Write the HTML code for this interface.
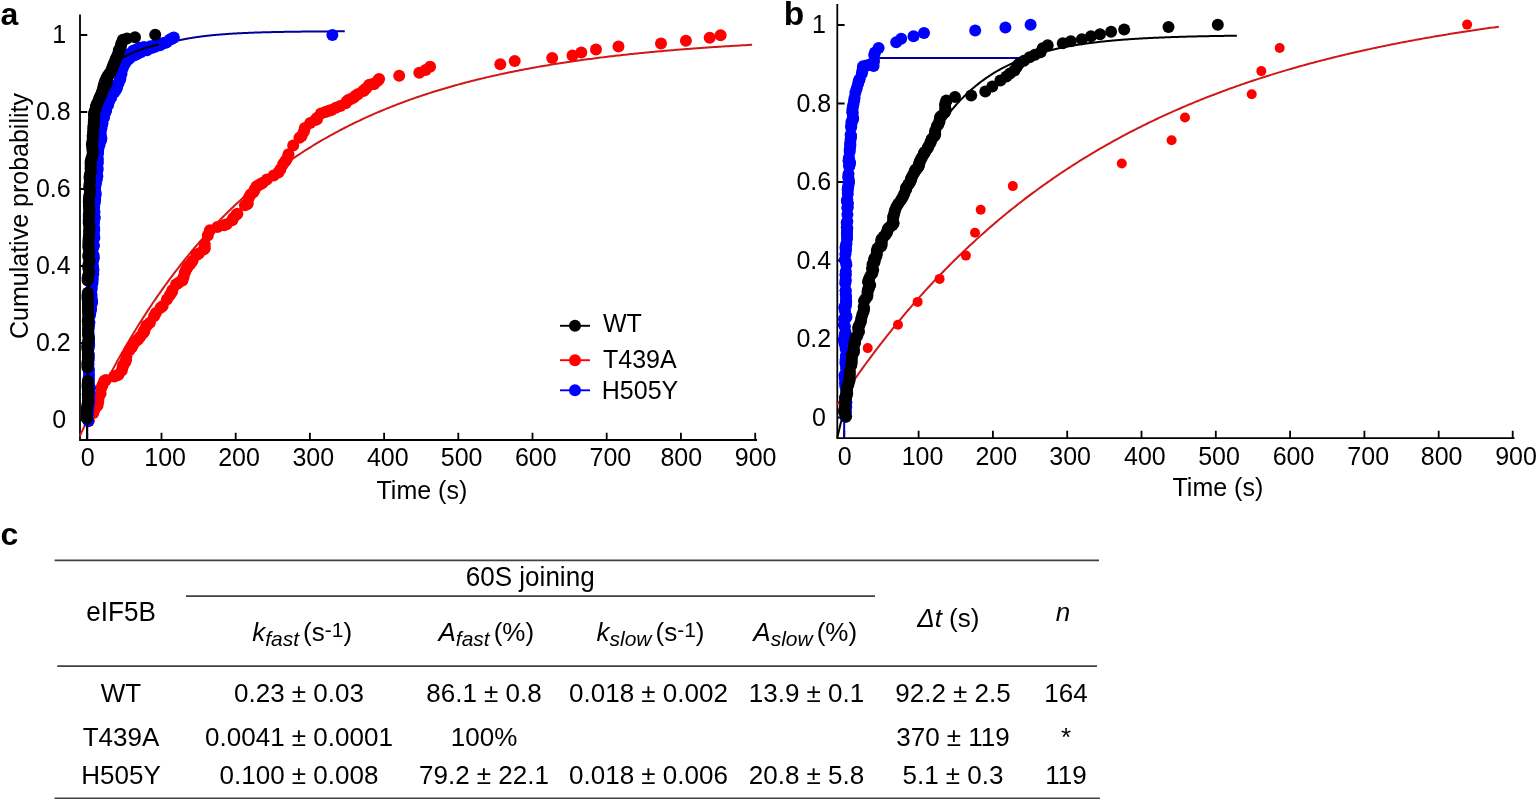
<!DOCTYPE html>
<html><head><meta charset="utf-8"><title>Figure</title>
<style>html,body{margin:0;padding:0;background:#fff;} body{width:1540px;height:800px;overflow:hidden;} svg{display:block;}</style>
</head><body>
<svg width="1540" height="800" viewBox="0 0 1540 800">
<rect width="1540" height="800" fill="#fff"/>
<path d="M80.0,15.5 L80.0,440.0 L756.1,440.0" fill="none" stroke="#000" stroke-width="1.8" stroke-linejoin="miter" stroke-linecap="square"/>
<path d="M87.30,440.0 L87.30,432.7 M161.50,440.0 L161.50,432.7 M235.70,440.0 L235.70,432.7 M309.90,440.0 L309.90,432.7 M384.10,440.0 L384.10,432.7 M458.30,440.0 L458.30,432.7 M532.50,440.0 L532.50,432.7 M606.70,440.0 L606.70,432.7 M680.90,440.0 L680.90,432.7 M755.20,440.0 L755.20,432.7 M80.0,420.00 L87.3,420.00 M80.0,343.00 L87.3,343.00 M80.0,266.00 L87.3,266.00 M80.0,189.00 L87.3,189.00 M80.0,112.00 L87.3,112.00 M80.0,35.00 L87.3,35.00 " stroke="#000" stroke-width="1.8" fill="none"/>
<path d="M79.88,436.11 L81.56,432.40 L83.25,428.71 L84.93,425.07 L86.62,421.45 L88.30,417.87 L89.99,414.32 L91.67,410.81 L93.36,407.32 L95.04,403.87 L96.73,400.46 L98.41,397.07 L100.10,393.71 L101.78,390.39 L103.47,387.10 L105.15,383.83 L106.84,380.60 L108.52,377.40 L110.21,374.23 L111.89,371.08 L113.58,367.97 L115.26,364.88 L116.95,361.83 L118.63,358.80 L120.32,355.80 L122.00,352.82 L123.69,349.88 L125.37,346.96 L127.06,344.07 L128.74,341.21 L130.43,338.37 L132.11,335.56 L133.79,332.77 L135.48,330.01 L137.16,327.28 L138.85,324.57 L140.53,321.89 L142.22,319.23 L143.90,316.60 L145.59,313.99 L147.27,311.40 L148.96,308.84 L150.64,306.30 L152.33,303.79 L154.01,301.30 L155.70,298.83 L157.38,296.38 L159.07,293.96 L160.75,291.56 L162.44,289.19 L164.12,286.83 L165.81,284.50 L167.49,282.18 L169.18,279.89 L170.86,277.62 L172.55,275.38 L174.23,273.15 L175.92,270.94 L177.60,268.76 L179.29,266.59 L180.97,264.44 L182.66,262.32 L184.34,260.21 L186.03,258.12 L187.71,256.06 L189.39,254.01 L191.08,251.98 L192.76,249.97 L194.45,247.98 L196.13,246.00 L197.82,244.05 L199.50,242.11 L201.19,240.19 L202.87,238.29 L204.56,236.41 L206.24,234.54 L207.93,232.69 L209.61,230.86 L211.30,229.04 L212.98,227.25 L214.67,225.46 L216.35,223.70 L218.04,221.95 L219.72,220.22 L221.41,218.50 L223.09,216.80 L224.78,215.12 L226.46,213.45 L228.15,211.79 L229.83,210.16 L231.52,208.53 L233.20,206.92 L234.89,205.33 L236.57,203.75 L238.26,202.19 L239.94,200.64 L241.62,199.10 L243.31,197.58 L244.99,196.08 L246.68,194.58 L248.36,193.11 L250.05,191.64 L251.73,190.19 L253.42,188.75 L255.10,187.33 L256.79,185.92 L258.47,184.52 L260.16,183.13 L261.84,181.76 L263.53,180.40 L265.21,179.05 L266.90,177.72 L268.58,176.39 L270.27,175.08 L271.95,173.79 L273.64,172.50 L275.32,171.23 L277.01,169.96 L278.69,168.71 L280.38,167.47 L282.06,166.25 L283.75,165.03 L285.43,163.82 L287.12,162.63 L288.80,161.45 L290.49,160.28 L292.17,159.12 L293.85,157.97 L295.54,156.83 L297.22,155.70 L298.91,154.58 L300.59,153.47 L302.28,152.37 L303.96,151.28 L305.65,150.21 L307.33,149.14 L309.02,148.08 L310.70,147.03 L312.39,146.00 L314.07,144.97 L315.76,143.95 L317.44,142.94 L319.13,141.94 L320.81,140.95 L322.50,139.97 L324.18,138.99 L325.87,138.03 L327.55,137.07 L329.24,136.13 L330.92,135.19 L332.61,134.26 L334.29,133.34 L335.98,132.43 L337.66,131.53 L339.35,130.63 L341.03,129.75 L342.72,128.87 L344.40,128.00 L346.09,127.14 L347.77,126.29 L349.45,125.44 L351.14,124.60 L352.82,123.77 L354.51,122.95 L356.19,122.13 L357.88,121.33 L359.56,120.53 L361.25,119.73 L362.93,118.95 L364.62,118.17 L366.30,117.40 L367.99,116.64 L369.67,115.88 L371.36,115.13 L373.04,114.39 L374.73,113.65 L376.41,112.92 L378.10,112.20 L379.78,111.49 L381.47,110.78 L383.15,110.07 L384.84,109.38 L386.52,108.69 L388.21,108.01 L389.89,107.33 L391.58,106.66 L393.26,106.00 L394.95,105.34 L396.63,104.69 L398.32,104.04 L400.00,103.40 L401.68,102.77 L403.37,102.14 L405.05,101.52 L406.74,100.90 L408.42,100.29 L410.11,99.68 L411.79,99.09 L413.48,98.49 L415.16,97.90 L416.85,97.32 L418.53,96.74 L420.22,96.17 L421.90,95.60 L423.59,95.04 L425.27,94.49 L426.96,93.93 L428.64,93.39 L430.33,92.85 L432.01,92.31 L433.70,91.78 L435.38,91.25 L437.07,90.73 L438.75,90.22 L440.44,89.70 L442.12,89.20 L443.81,88.70 L445.49,88.20 L447.18,87.71 L448.86,87.22 L450.55,86.73 L452.23,86.25 L453.91,85.78 L455.60,85.31 L457.28,84.84 L458.97,84.38 L460.65,83.92 L462.34,83.47 L464.02,83.02 L465.71,82.57 L467.39,82.13 L469.08,81.70 L470.76,81.26 L472.45,80.84 L474.13,80.41 L475.82,79.99 L477.50,79.57 L479.19,79.16 L480.87,78.75 L482.56,78.35 L484.24,77.94 L485.93,77.55 L487.61,77.15 L489.30,76.76 L490.98,76.37 L492.67,75.99 L494.35,75.61 L496.04,75.23 L497.72,74.86 L499.41,74.49 L501.09,74.13 L502.78,73.76 L504.46,73.40 L506.15,73.05 L507.83,72.70 L509.51,72.35 L511.20,72.00 L512.88,71.66 L514.57,71.32 L516.25,70.98 L517.94,70.65 L519.62,70.32 L521.31,69.99 L522.99,69.67 L524.68,69.35 L526.36,69.03 L528.05,68.71 L529.73,68.40 L531.42,68.09 L533.10,67.78 L534.79,67.48 L536.47,67.18 L538.16,66.88 L539.84,66.58 L541.53,66.29 L543.21,66.00 L544.90,65.71 L546.58,65.43 L548.27,65.15 L549.95,64.87 L551.64,64.59 L553.32,64.32 L555.01,64.05 L556.69,63.78 L558.38,63.51 L560.06,63.25 L561.74,62.98 L563.43,62.73 L565.11,62.47 L566.80,62.21 L568.48,61.96 L570.17,61.71 L571.85,61.46 L573.54,61.22 L575.22,60.98 L576.91,60.74 L578.59,60.50 L580.28,60.26 L581.96,60.03 L583.65,59.79 L585.33,59.56 L587.02,59.34 L588.70,59.11 L590.39,58.89 L592.07,58.67 L593.76,58.45 L595.44,58.23 L597.13,58.01 L598.81,57.80 L600.50,57.59 L602.18,57.38 L603.87,57.17 L605.55,56.97 L607.24,56.76 L608.92,56.56 L610.61,56.36 L612.29,56.17 L613.97,55.97 L615.66,55.77 L617.34,55.58 L619.03,55.39 L620.71,55.20 L622.40,55.02 L624.08,54.83 L625.77,54.65 L627.45,54.46 L629.14,54.28 L630.82,54.10 L632.51,53.93 L634.19,53.75 L635.88,53.58 L637.56,53.41 L639.25,53.24 L640.93,53.07 L642.62,52.90 L644.30,52.73 L645.99,52.57 L647.67,52.41 L649.36,52.25 L651.04,52.09 L652.73,51.93 L654.41,51.77 L656.10,51.61 L657.78,51.46 L659.47,51.31 L661.15,51.16 L662.84,51.01 L664.52,50.86 L666.21,50.71 L667.89,50.57 L669.57,50.42 L671.26,50.28 L672.94,50.14 L674.63,50.00 L676.31,49.86 L678.00,49.72 L679.68,49.58 L681.37,49.45 L683.05,49.32 L684.74,49.18 L686.42,49.05 L688.11,48.92 L689.79,48.79 L691.48,48.66 L693.16,48.54 L694.85,48.41 L696.53,48.29 L698.22,48.16 L699.90,48.04 L701.59,47.92 L703.27,47.80 L704.96,47.68 L706.64,47.57 L708.33,47.45 L710.01,47.33 L711.70,47.22 L713.38,47.11 L715.07,46.99 L716.75,46.88 L718.44,46.77 L720.12,46.66 L721.80,46.56 L723.49,46.45 L725.17,46.34 L726.86,46.24 L728.54,46.13 L730.23,46.03 L731.91,45.93 L733.60,45.83 L735.28,45.73 L736.97,45.63 L738.65,45.53 L740.34,45.43 L742.02,45.33 L743.71,45.24 L745.39,45.14 L747.08,45.05 L748.76,44.96 L750.45,44.86 L752.13,44.77" fill="none" stroke="#d01818" stroke-width="2.0" stroke-linejoin="round"/>
<g fill="#ff0000"><circle cx="88.8" cy="421.1" r="6.0"/><circle cx="93.4" cy="413.0" r="6.0"/><circle cx="94.8" cy="409.1" r="6.0"/><circle cx="95.5" cy="406.8" r="6.0"/><circle cx="96.3" cy="406.5" r="6.0"/><circle cx="97.6" cy="405.2" r="6.0"/><circle cx="98.3" cy="401.5" r="6.0"/><circle cx="97.8" cy="398.6" r="6.0"/><circle cx="98.8" cy="397.3" r="6.0"/><circle cx="100.6" cy="393.4" r="6.0"/><circle cx="101.3" cy="387.9" r="6.0"/><circle cx="102.6" cy="384.9" r="6.0"/><circle cx="104.2" cy="381.1" r="6.0"/><circle cx="105.9" cy="380.0" r="6.0"/><circle cx="114.1" cy="376.5" r="6.0"/><circle cx="116.5" cy="375.4" r="6.0"/><circle cx="118.5" cy="374.7" r="6.0"/><circle cx="121.8" cy="370.5" r="6.0"/><circle cx="122.7" cy="367.0" r="6.0"/><circle cx="123.0" cy="365.4" r="6.0"/><circle cx="125.1" cy="362.2" r="6.0"/><circle cx="126.1" cy="360.1" r="6.0"/><circle cx="126.4" cy="356.6" r="6.0"/><circle cx="129.3" cy="350.3" r="6.0"/><circle cx="131.6" cy="347.4" r="6.0"/><circle cx="133.0" cy="345.0" r="6.0"/><circle cx="135.7" cy="341.3" r="6.0"/><circle cx="138.0" cy="339.6" r="6.0"/><circle cx="140.2" cy="336.7" r="6.0"/><circle cx="143.1" cy="332.9" r="6.0"/><circle cx="143.6" cy="332.2" r="6.0"/><circle cx="144.2" cy="330.7" r="6.0"/><circle cx="144.5" cy="330.2" r="6.0"/><circle cx="146.4" cy="325.8" r="6.0"/><circle cx="146.8" cy="325.4" r="6.0"/><circle cx="149.9" cy="322.8" r="6.0"/><circle cx="154.0" cy="316.3" r="6.0"/><circle cx="155.9" cy="312.9" r="6.0"/><circle cx="160.6" cy="307.7" r="6.0"/><circle cx="162.7" cy="306.1" r="6.0"/><circle cx="166.9" cy="299.4" r="6.0"/><circle cx="169.7" cy="295.3" r="6.0"/><circle cx="172.0" cy="292.1" r="6.0"/><circle cx="172.3" cy="290.2" r="6.0"/><circle cx="176.0" cy="284.4" r="6.0"/><circle cx="177.9" cy="283.2" r="6.0"/><circle cx="181.1" cy="281.0" r="6.0"/><circle cx="182.5" cy="280.2" r="6.0"/><circle cx="183.6" cy="277.1" r="6.0"/><circle cx="184.9" cy="272.3" r="6.0"/><circle cx="185.9" cy="269.9" r="6.0"/><circle cx="187.3" cy="267.6" r="6.0"/><circle cx="188.1" cy="266.0" r="6.0"/><circle cx="190.3" cy="264.0" r="6.0"/><circle cx="192.5" cy="261.1" r="6.0"/><circle cx="196.5" cy="255.0" r="6.0"/><circle cx="196.8" cy="254.5" r="6.0"/><circle cx="198.9" cy="253.4" r="6.0"/><circle cx="203.7" cy="249.5" r="6.0"/><circle cx="204.8" cy="248.2" r="6.0"/><circle cx="204.8" cy="244.5" r="6.0"/><circle cx="207.8" cy="235.4" r="6.0"/><circle cx="209.9" cy="230.2" r="6.0"/><circle cx="217.4" cy="226.9" r="6.0"/><circle cx="224.1" cy="225.3" r="6.0"/><circle cx="226.6" cy="224.3" r="6.0"/><circle cx="232.2" cy="220.3" r="6.0"/><circle cx="233.3" cy="218.0" r="6.0"/><circle cx="236.2" cy="214.8" r="6.0"/><circle cx="237.4" cy="213.7" r="6.0"/><circle cx="244.9" cy="205.3" r="6.0"/><circle cx="247.1" cy="204.3" r="6.0"/><circle cx="247.8" cy="203.3" r="6.0"/><circle cx="248.8" cy="197.8" r="6.0"/><circle cx="250.6" cy="194.4" r="6.0"/><circle cx="253.5" cy="192.0" r="6.0"/><circle cx="254.7" cy="189.6" r="6.0"/><circle cx="256.5" cy="186.6" r="6.0"/><circle cx="258.5" cy="185.3" r="6.0"/><circle cx="260.7" cy="184.0" r="6.0"/><circle cx="262.8" cy="182.7" r="6.0"/><circle cx="266.9" cy="179.6" r="6.0"/><circle cx="273.7" cy="175.5" r="6.0"/><circle cx="278.4" cy="172.5" r="6.0"/><circle cx="280.4" cy="169.3" r="6.0"/><circle cx="283.2" cy="164.1" r="6.0"/><circle cx="285.2" cy="161.2" r="6.0"/><circle cx="286.8" cy="159.1" r="6.0"/><circle cx="288.5" cy="154.2" r="6.0"/><circle cx="293.2" cy="145.4" r="6.0"/><circle cx="299.5" cy="137.7" r="6.0"/><circle cx="301.6" cy="136.0" r="6.0"/><circle cx="303.9" cy="131.6" r="6.0"/><circle cx="304.9" cy="128.0" r="6.0"/><circle cx="310.2" cy="122.9" r="6.0"/><circle cx="315.3" cy="120.1" r="6.0"/><circle cx="316.9" cy="119.3" r="6.0"/><circle cx="317.2" cy="117.8" r="6.0"/><circle cx="321.0" cy="113.4" r="6.0"/><circle cx="325.4" cy="112.0" r="6.0"/><circle cx="328.9" cy="110.7" r="6.0"/><circle cx="331.4" cy="110.0" r="6.0"/><circle cx="335.9" cy="107.8" r="6.0"/><circle cx="340.3" cy="106.0" r="6.0"/><circle cx="345.7" cy="103.2" r="6.0"/><circle cx="346.7" cy="101.5" r="6.0"/><circle cx="348.3" cy="100.0" r="6.0"/><circle cx="351.4" cy="98.8" r="6.0"/><circle cx="353.8" cy="97.4" r="6.0"/><circle cx="355.9" cy="95.4" r="6.0"/><circle cx="358.2" cy="94.0" r="6.0"/><circle cx="363.2" cy="90.8" r="6.0"/><circle cx="364.0" cy="90.7" r="6.0"/><circle cx="366.0" cy="88.5" r="6.0"/><circle cx="368.9" cy="85.2" r="6.0"/><circle cx="369.6" cy="84.8" r="6.0"/><circle cx="372.7" cy="84.0" r="6.0"/><circle cx="374.2" cy="84.0" r="6.0"/><circle cx="377.8" cy="80.7" r="6.0"/><circle cx="379.1" cy="79.0" r="6.0"/><circle cx="399.2" cy="75.7" r="6.0"/><circle cx="419.3" cy="72.7" r="6.0"/><circle cx="425.6" cy="70.1" r="6.0"/><circle cx="430.1" cy="66.8" r="6.0"/><circle cx="500.3" cy="64.3" r="6.0"/><circle cx="514.7" cy="61.0" r="6.0"/><circle cx="552.2" cy="58.0" r="6.0"/><circle cx="572.5" cy="55.5" r="6.0"/><circle cx="581.3" cy="52.4" r="6.0"/><circle cx="596.0" cy="49.6" r="6.0"/><circle cx="618.5" cy="46.6" r="6.0"/><circle cx="661.0" cy="43.5" r="6.0"/><circle cx="685.9" cy="40.8" r="6.0"/><circle cx="709.7" cy="37.7" r="6.0"/><circle cx="720.6" cy="35.2" r="6.0"/></g>
<path d="M86.85,439.73 L87.50,411.45 L88.15,385.44 L88.79,361.52 L89.44,339.50 L90.09,319.23 L90.73,300.57 L91.38,283.38 L92.03,267.54 L92.67,252.95 L93.32,239.49 L93.97,227.07 L94.61,215.62 L95.26,205.04 L95.90,195.27 L96.55,186.25 L97.20,177.90 L97.84,170.18 L98.49,163.03 L99.14,156.41 L99.78,150.27 L100.43,144.58 L101.08,139.30 L101.72,134.39 L102.37,129.83 L103.02,125.58 L103.66,121.63 L104.31,117.95 L104.95,114.51 L105.60,111.30 L106.25,108.30 L106.89,105.50 L107.54,102.87 L108.19,100.40 L108.83,98.09 L109.48,95.91 L110.13,93.87 L110.77,91.94 L111.42,90.12 L112.06,88.40 L112.71,86.78 L113.36,85.24 L114.00,83.78 L114.65,82.40 L115.30,81.08 L115.94,79.83 L116.59,78.64 L117.24,77.50 L117.88,76.42 L118.53,75.38 L119.18,74.38 L119.82,73.43 L120.47,72.51 L121.11,71.63 L121.76,70.79 L122.41,69.97 L123.05,69.19 L123.70,68.43 L124.35,67.69 L124.99,66.99 L125.64,66.30 L126.29,65.64 L126.93,64.99 L127.58,64.37 L128.23,63.76 L128.87,63.17 L129.52,62.59 L130.16,62.03 L130.81,61.49 L131.46,60.96 L132.10,60.44 L132.75,59.94 L133.40,59.44 L134.04,58.96 L134.69,58.49 L135.34,58.03 L135.98,57.58 L136.63,57.14 L137.28,56.71 L137.92,56.29 L138.57,55.87 L139.21,55.47 L139.86,55.07 L140.51,54.68 L141.15,54.30 L141.80,53.93 L142.45,53.56 L143.09,53.20 L143.74,52.84 L144.39,52.49 L145.03,52.15 L145.68,51.82 L146.32,51.49 L146.97,51.16 L147.62,50.85 L148.26,50.53 L148.91,50.23 L149.56,49.92 L150.20,49.63 L150.85,49.34 L151.50,49.05 L152.14,48.77 L152.79,48.49 L153.44,48.22 L154.08,47.95 L154.73,47.68 L155.37,47.43 L156.02,47.17 L156.67,46.92 L157.31,46.67 L157.96,46.43 L158.61,46.19 L159.25,45.95 L159.90,45.72 L160.55,45.49 L161.19,45.27 L161.84,45.05 L162.49,44.83 L163.13,44.62 L163.78,44.41 L164.42,44.20 L165.07,44.00 L165.72,43.80 L166.36,43.60 L167.01,43.41 L167.66,43.21 L168.30,43.03 L168.95,42.84 L169.60,42.66 L170.24,42.48 L170.89,42.30 L171.54,42.13 L172.18,41.96 L172.83,41.79 L173.47,41.62 L174.12,41.46 L174.77,41.30 L175.41,41.14 L176.06,40.99 L176.71,40.83 L177.35,40.68 L178.00,40.53 L178.65,40.39 L179.29,40.24 L179.94,40.10 L180.58,39.96 L181.23,39.83 L181.88,39.69 L182.52,39.56 L183.17,39.43 L183.82,39.30 L184.46,39.17 L185.11,39.05 L185.76,38.92 L186.40,38.80 L187.05,38.68 L187.70,38.57 L188.34,38.45 L188.99,38.34 L189.63,38.23 L190.28,38.12 L190.93,38.01 L191.57,37.90 L192.22,37.80 L192.87,37.69 L193.51,37.59 L194.16,37.49 L194.81,37.39 L195.45,37.29 L196.10,37.20 L196.75,37.10 L197.39,37.01 L198.04,36.92 L198.68,36.83 L199.33,36.74 L199.98,36.66 L200.62,36.57 L201.27,36.49 L201.92,36.40 L202.56,36.32 L203.21,36.24 L203.86,36.16 L204.50,36.08 L205.15,36.01 L205.79,35.93 L206.44,35.86 L207.09,35.78 L207.73,35.71 L208.38,35.64 L209.03,35.57 L209.67,35.50 L210.32,35.43 L210.97,35.37 L211.61,35.30 L212.26,35.24 L212.91,35.17 L213.55,35.11 L214.20,35.05 L214.84,34.99 L215.49,34.93 L216.14,34.87 L216.78,34.81 L217.43,34.75 L218.08,34.70 L218.72,34.64 L219.37,34.59 L220.02,34.54 L220.66,34.48 L221.31,34.43 L221.96,34.38 L222.60,34.33 L223.25,34.28 L223.89,34.23 L224.54,34.18 L225.19,34.14 L225.83,34.09 L226.48,34.04 L227.13,34.00 L227.77,33.96 L228.42,33.91 L229.07,33.87 L229.71,33.83 L230.36,33.78 L231.01,33.74 L231.65,33.70 L232.30,33.66 L232.94,33.62 L233.59,33.59 L234.24,33.55 L234.88,33.51 L235.53,33.47 L236.18,33.44 L236.82,33.40 L237.47,33.37 L238.12,33.33 L238.76,33.30 L239.41,33.27 L240.05,33.23 L240.70,33.20 L241.35,33.17 L241.99,33.14 L242.64,33.11 L243.29,33.08 L243.93,33.05 L244.58,33.02 L245.23,32.99 L245.87,32.96 L246.52,32.93 L247.17,32.90 L247.81,32.88 L248.46,32.85 L249.10,32.82 L249.75,32.80 L250.40,32.77 L251.04,32.75 L251.69,32.72 L252.34,32.70 L252.98,32.67 L253.63,32.65 L254.28,32.62 L254.92,32.60 L255.57,32.58 L256.22,32.56 L256.86,32.54 L257.51,32.51 L258.15,32.49 L258.80,32.47 L259.45,32.45 L260.09,32.43 L260.74,32.41 L261.39,32.39 L262.03,32.37 L262.68,32.35 L263.33,32.33 L263.97,32.32 L264.62,32.30 L265.27,32.28 L265.91,32.26 L266.56,32.24 L267.20,32.23 L267.85,32.21 L268.50,32.19 L269.14,32.18 L269.79,32.16 L270.44,32.15 L271.08,32.13 L271.73,32.12 L272.38,32.10 L273.02,32.09 L273.67,32.07 L274.31,32.06 L274.96,32.04 L275.61,32.03 L276.25,32.02 L276.90,32.00 L277.55,31.99 L278.19,31.98 L278.84,31.96 L279.49,31.95 L280.13,31.94 L280.78,31.93 L281.43,31.91 L282.07,31.90 L282.72,31.89 L283.36,31.88 L284.01,31.87 L284.66,31.86 L285.30,31.84 L285.95,31.83 L286.60,31.82 L287.24,31.81 L287.89,31.80 L288.54,31.79 L289.18,31.78 L289.83,31.77 L290.48,31.76 L291.12,31.75 L291.77,31.74 L292.41,31.73 L293.06,31.73 L293.71,31.72 L294.35,31.71 L295.00,31.70 L295.65,31.69 L296.29,31.68 L296.94,31.67 L297.59,31.67 L298.23,31.66 L298.88,31.65 L299.53,31.64 L300.17,31.63 L300.82,31.63 L301.46,31.62 L302.11,31.61 L302.76,31.60 L303.40,31.60 L304.05,31.59 L304.70,31.58 L305.34,31.58 L305.99,31.57 L306.64,31.56 L307.28,31.56 L307.93,31.55 L308.57,31.55 L309.22,31.54 L309.87,31.53 L310.51,31.53 L311.16,31.52 L311.81,31.52 L312.45,31.51 L313.10,31.50 L313.75,31.50 L314.39,31.49 L315.04,31.49 L315.69,31.48 L316.33,31.48 L316.98,31.47 L317.62,31.47 L318.27,31.46 L318.92,31.46 L319.56,31.45 L320.21,31.45 L320.86,31.44 L321.50,31.44 L322.15,31.43 L322.80,31.43 L323.44,31.43 L324.09,31.42 L324.74,31.42 L325.38,31.41 L326.03,31.41 L326.67,31.40 L327.32,31.40 L327.97,31.40 L328.61,31.39 L329.26,31.39 L329.91,31.39 L330.55,31.38 L331.20,31.38 L331.85,31.37 L332.49,31.37 L333.14,31.37 L333.78,31.36 L334.43,31.36 L335.08,31.36 L335.72,31.35 L336.37,31.35 L337.02,31.35 L337.66,31.35 L338.31,31.34 L338.96,31.34 L339.60,31.34 L340.25,31.33 L340.90,31.33 L341.54,31.33 L342.19,31.32 L342.83,31.32 L343.48,31.32 L344.13,31.32 L344.77,31.31" fill="none" stroke="#00009a" stroke-width="2.0" stroke-linejoin="round"/>
<g fill="#0000ff"><circle cx="88.3" cy="421.0" r="6.0"/><circle cx="87.9" cy="419.1" r="6.0"/><circle cx="87.9" cy="413.2" r="6.0"/><circle cx="88.2" cy="412.2" r="6.0"/><circle cx="88.1" cy="410.2" r="6.0"/><circle cx="88.1" cy="409.2" r="6.0"/><circle cx="88.6" cy="406.1" r="6.0"/><circle cx="88.8" cy="402.9" r="6.0"/><circle cx="88.6" cy="401.8" r="6.0"/><circle cx="89.2" cy="401.0" r="6.0"/><circle cx="89.3" cy="398.7" r="6.0"/><circle cx="88.8" cy="396.7" r="6.0"/><circle cx="89.5" cy="393.4" r="6.0"/><circle cx="90.0" cy="387.9" r="6.0"/><circle cx="89.2" cy="385.2" r="6.0"/><circle cx="88.8" cy="381.2" r="6.0"/><circle cx="88.6" cy="378.9" r="6.0"/><circle cx="88.7" cy="377.7" r="6.0"/><circle cx="89.0" cy="374.7" r="6.0"/><circle cx="88.9" cy="370.4" r="6.0"/><circle cx="88.6" cy="368.6" r="6.0"/><circle cx="88.5" cy="364.2" r="6.0"/><circle cx="88.6" cy="360.3" r="6.0"/><circle cx="88.6" cy="358.4" r="6.0"/><circle cx="88.7" cy="356.7" r="6.0"/><circle cx="88.8" cy="354.3" r="6.0"/><circle cx="88.8" cy="347.4" r="6.0"/><circle cx="89.2" cy="345.0" r="6.0"/><circle cx="89.1" cy="343.4" r="6.0"/><circle cx="88.6" cy="340.6" r="6.0"/><circle cx="88.9" cy="339.4" r="6.0"/><circle cx="89.0" cy="337.1" r="6.0"/><circle cx="88.6" cy="332.9" r="6.0"/><circle cx="88.6" cy="328.4" r="6.0"/><circle cx="88.8" cy="325.7" r="6.0"/><circle cx="89.2" cy="324.1" r="6.0"/><circle cx="89.4" cy="322.3" r="6.0"/><circle cx="89.8" cy="315.4" r="6.0"/><circle cx="90.2" cy="314.1" r="6.0"/><circle cx="90.4" cy="311.8" r="6.0"/><circle cx="90.9" cy="310.1" r="6.0"/><circle cx="90.9" cy="309.1" r="6.0"/><circle cx="90.6" cy="307.5" r="6.0"/><circle cx="91.7" cy="303.5" r="6.0"/><circle cx="92.2" cy="302.0" r="6.0"/><circle cx="91.7" cy="300.0" r="6.0"/><circle cx="91.5" cy="298.9" r="6.0"/><circle cx="91.5" cy="297.1" r="6.0"/><circle cx="91.5" cy="294.4" r="6.0"/><circle cx="91.5" cy="289.4" r="6.0"/><circle cx="91.7" cy="287.9" r="6.0"/><circle cx="92.4" cy="283.2" r="6.0"/><circle cx="92.6" cy="280.5" r="6.0"/><circle cx="92.7" cy="277.9" r="6.0"/><circle cx="93.3" cy="273.9" r="6.0"/><circle cx="93.5" cy="269.8" r="6.0"/><circle cx="93.0" cy="266.3" r="6.0"/><circle cx="93.1" cy="261.1" r="6.0"/><circle cx="93.9" cy="258.1" r="6.0"/><circle cx="93.6" cy="255.3" r="6.0"/><circle cx="92.3" cy="250.5" r="6.0"/><circle cx="92.2" cy="248.8" r="6.0"/><circle cx="93.1" cy="247.9" r="6.0"/><circle cx="94.0" cy="245.4" r="6.0"/><circle cx="94.4" cy="238.0" r="6.0"/><circle cx="94.0" cy="235.1" r="6.0"/><circle cx="94.2" cy="230.4" r="6.0"/><circle cx="94.2" cy="227.9" r="6.0"/><circle cx="94.0" cy="222.9" r="6.0"/><circle cx="94.4" cy="219.0" r="6.0"/><circle cx="94.6" cy="217.5" r="6.0"/><circle cx="94.5" cy="217.1" r="6.0"/><circle cx="94.5" cy="212.0" r="6.0"/><circle cx="94.2" cy="207.0" r="6.0"/><circle cx="94.3" cy="204.3" r="6.0"/><circle cx="95.0" cy="201.5" r="6.0"/><circle cx="95.2" cy="199.1" r="6.0"/><circle cx="95.5" cy="195.4" r="6.0"/><circle cx="95.7" cy="193.6" r="6.0"/><circle cx="95.3" cy="191.8" r="6.0"/><circle cx="94.9" cy="188.5" r="6.0"/><circle cx="95.3" cy="185.9" r="6.0"/><circle cx="95.7" cy="183.9" r="6.0"/><circle cx="96.2" cy="181.5" r="6.0"/><circle cx="96.8" cy="178.9" r="6.0"/><circle cx="97.2" cy="176.3" r="6.0"/><circle cx="97.3" cy="176.0" r="6.0"/><circle cx="97.6" cy="170.1" r="6.0"/><circle cx="97.6" cy="167.9" r="6.0"/><circle cx="97.9" cy="162.8" r="6.0"/><circle cx="97.9" cy="158.9" r="6.0"/><circle cx="98.0" cy="153.5" r="6.0"/><circle cx="97.9" cy="152.2" r="6.0"/><circle cx="98.3" cy="149.2" r="6.0"/><circle cx="98.9" cy="145.2" r="6.0"/><circle cx="99.5" cy="145.0" r="6.0"/><circle cx="100.9" cy="140.6" r="6.0"/><circle cx="101.4" cy="138.4" r="6.0"/><circle cx="100.8" cy="137.0" r="6.0"/><circle cx="100.5" cy="134.5" r="6.0"/><circle cx="100.6" cy="133.0" r="6.0"/><circle cx="101.4" cy="128.4" r="6.0"/><circle cx="102.0" cy="124.9" r="6.0"/><circle cx="102.5" cy="123.3" r="6.0"/><circle cx="104.0" cy="117.7" r="6.0"/><circle cx="105.2" cy="113.1" r="6.0"/><circle cx="106.0" cy="110.9" r="6.0"/><circle cx="105.9" cy="109.6" r="6.0"/><circle cx="106.4" cy="106.6" r="6.0"/><circle cx="107.9" cy="105.2" r="6.0"/><circle cx="108.4" cy="103.4" r="6.0"/><circle cx="109.3" cy="100.6" r="6.0"/><circle cx="111.2" cy="97.4" r="6.0"/><circle cx="114.6" cy="92.0" r="6.0"/><circle cx="116.5" cy="88.9" r="6.0"/><circle cx="116.9" cy="87.5" r="6.0"/><circle cx="117.7" cy="84.9" r="6.0"/><circle cx="118.7" cy="82.4" r="6.0"/><circle cx="120.2" cy="79.2" r="6.0"/><circle cx="120.4" cy="77.7" r="6.0"/><circle cx="121.5" cy="73.7" r="6.0"/><circle cx="122.5" cy="68.8" r="6.0"/><circle cx="123.2" cy="66.4" r="6.0"/><circle cx="125.4" cy="62.9" r="6.0"/><circle cx="128.4" cy="59.6" r="6.0"/><circle cx="130.4" cy="57.4" r="6.0"/><circle cx="134.8" cy="55.2" r="6.0"/><circle cx="137.1" cy="54.1" r="6.0"/><circle cx="140.8" cy="52.3" r="6.0"/><circle cx="147.0" cy="50.3" r="6.0"/><circle cx="151.6" cy="48.1" r="6.0"/><circle cx="155.2" cy="46.8" r="6.0"/><circle cx="160.1" cy="45.2" r="6.0"/><circle cx="127.0" cy="57.0" r="6.0"/><circle cx="128.8" cy="54.2" r="6.0"/><circle cx="133.1" cy="50.8" r="6.0"/><circle cx="135.6" cy="49.7" r="6.0"/><circle cx="139.5" cy="47.8" r="6.0"/><circle cx="144.0" cy="47.0" r="6.0"/><circle cx="150.6" cy="46.3" r="6.0"/><circle cx="155.0" cy="45.3" r="6.0"/><circle cx="157.4" cy="44.4" r="6.0"/><circle cx="162.1" cy="43.3" r="6.0"/><circle cx="165.1" cy="42.9" r="6.0"/><circle cx="166.9" cy="41.9" r="6.0"/><circle cx="170.1" cy="39.4" r="6.0"/><circle cx="171.0" cy="39.2" r="6.0"/><circle cx="173.3" cy="38.1" r="6.0"/><circle cx="173.8" cy="37.5" r="6.0"/><circle cx="332.4" cy="35.0" r="6.0"/></g>
<path d="M87.08,440.00 L87.26,424.46 L87.44,406.00 L87.62,388.53 L87.80,371.99 L87.98,356.34 L88.16,341.53 L88.34,327.51 L88.52,314.24 L88.70,301.68 L88.88,289.79 L89.06,278.53 L89.24,267.87 L89.42,257.78 L89.60,248.23 L89.78,239.18 L89.96,230.62 L90.14,222.51 L90.32,214.82 L90.50,207.55 L90.68,200.65 L90.86,194.12 L91.04,187.94 L91.22,182.08 L91.40,176.53 L91.58,171.26 L91.76,166.28 L91.94,161.55 L92.12,157.07 L92.30,152.82 L92.48,148.79 L92.66,144.97 L92.84,141.35 L93.02,137.91 L93.20,134.65 L93.38,131.56 L93.56,128.62 L93.74,125.84 L93.92,123.19 L94.10,120.68 L94.28,118.30 L94.46,116.03 L94.64,113.88 L94.82,111.83 L95.00,109.89 L95.18,108.04 L95.36,106.28 L95.54,104.61 L95.72,103.02 L95.90,101.51 L96.08,100.07 L96.26,98.69 L96.44,97.39 L96.62,96.14 L96.80,94.95 L96.98,93.82 L97.16,92.74 L97.34,91.71 L97.52,90.73 L97.70,89.79 L97.88,88.89 L98.06,88.03 L98.24,87.21 L98.42,86.43 L98.60,85.67 L98.78,84.95 L98.96,84.27 L99.14,83.60 L99.32,82.97 L99.50,82.36 L99.68,81.78 L99.86,81.22 L100.04,80.68 L100.22,80.16 L100.40,79.66 L100.58,79.18 L100.76,78.72 L100.94,78.28 L101.12,77.85 L101.30,77.43 L101.48,77.03 L101.66,76.64 L101.84,76.27 L102.02,75.91 L102.20,75.56 L102.38,75.22 L102.56,74.89 L102.74,74.57 L102.92,74.26 L103.10,73.95 L103.28,73.66 L103.46,73.37 L103.64,73.10 L103.82,72.83 L104.00,72.56 L104.18,72.31 L104.36,72.05 L104.54,71.81 L104.72,71.57 L104.90,71.34 L105.08,71.11 L105.26,70.88 L105.44,70.66 L105.62,70.45 L105.80,70.24 L105.98,70.03 L106.16,69.83 L106.34,69.63 L106.52,69.43 L106.70,69.24 L106.88,69.05 L107.06,68.86 L107.24,68.68 L107.42,68.50 L107.60,68.32 L107.78,68.14 L107.96,67.97 L108.14,67.80 L108.32,67.63 L108.50,67.46 L108.68,67.30 L108.86,67.14 L109.04,66.97 L109.22,66.82 L109.40,66.66 L109.58,66.50 L109.76,66.35 L109.94,66.20 L110.12,66.05 L110.30,65.90 L110.48,65.75 L110.66,65.60 L110.84,65.46 L111.02,65.31 L111.20,65.17 L111.38,65.03 L111.56,64.89 L111.74,64.75 L111.92,64.61 L112.10,64.47 L112.28,64.34 L112.46,64.20 L112.64,64.07 L112.82,63.94 L113.00,63.80 L113.18,63.67 L113.36,63.54 L113.54,63.41 L113.72,63.28 L113.90,63.16 L114.08,63.03 L114.26,62.90 L114.44,62.78 L114.62,62.65 L114.80,62.53 L114.98,62.41 L115.16,62.28 L115.34,62.16 L115.52,62.04 L115.70,61.92 L115.88,61.80 L116.06,61.68 L116.24,61.56 L116.42,61.44 L116.60,61.33 L116.78,61.21 L116.96,61.10 L117.14,60.98 L117.32,60.86 L117.50,60.75 L117.68,60.64 L117.86,60.52 L118.04,60.41 L118.22,60.30 L118.40,60.19 L118.58,60.08 L118.76,59.97 L118.94,59.86 L119.12,59.75 L119.30,59.64 L119.48,59.53 L119.66,59.42 L119.84,59.32 L120.02,59.21 L120.20,59.10 L120.38,59.00 L120.56,58.89 L120.74,58.79 L120.92,58.68 L121.10,58.58 L121.28,58.48 L121.46,58.37 L121.64,58.27 L121.82,58.17 L122.00,58.07 L122.18,57.97 L122.36,57.87 L122.54,57.77 L122.72,57.67 L122.90,57.57 L123.08,57.47 L123.26,57.37 L123.44,57.27 L123.62,57.18 L123.80,57.08 L123.98,56.98 L124.16,56.89 L124.34,56.79 L124.52,56.70 L124.70,56.60 L124.88,56.51 L125.06,56.41 L125.24,56.32 L125.42,56.23 L125.60,56.14 L125.78,56.04 L125.96,55.95 L126.14,55.86 L126.32,55.77 L126.50,55.68 L126.68,55.59 L126.86,55.50 L127.04,55.41 L127.22,55.32 L127.40,55.23 L127.58,55.14 L127.76,55.06 L127.94,54.97 L128.12,54.88 L128.30,54.79 L128.48,54.71 L128.66,54.62 L128.84,54.54 L129.02,54.45 L129.20,54.37 L129.38,54.28 L129.56,54.20 L129.74,54.11 L129.92,54.03 L130.10,53.95 L130.28,53.87 L130.46,53.78 L130.64,53.70 L130.82,53.62 L131.00,53.54 L131.18,53.46 L131.36,53.38 L131.54,53.30 L131.72,53.22 L131.90,53.14 L132.08,53.06 L132.26,52.98 L132.44,52.90 L132.62,52.82 L132.80,52.75 L132.98,52.67 L133.16,52.59 L133.34,52.52 L133.52,52.44 L133.70,52.36 L133.88,52.29 L134.06,52.21 L134.24,52.14 L134.42,52.06 L134.60,51.99 L134.78,51.91 L134.96,51.84 L135.14,51.77 L135.32,51.69 L135.50,51.62 L135.68,51.55 L135.86,51.48 L136.04,51.40 L136.22,51.33 L136.40,51.26 L136.58,51.19 L136.76,51.12 L136.94,51.05 L137.12,50.98 L137.30,50.91 L137.48,50.84 L137.66,50.77 L137.84,50.70 L138.02,50.64 L138.20,50.57 L138.38,50.50 L138.56,50.43 L138.74,50.36 L138.92,50.30 L139.10,50.23 L139.28,50.16 L139.46,50.10 L139.64,50.03 L139.82,49.97 L140.00,49.90 L140.18,49.84 L140.36,49.77 L140.54,49.71 L140.72,49.64 L140.90,49.58 L141.08,49.52 L141.26,49.45 L141.44,49.39 L141.62,49.33 L141.80,49.27 L141.98,49.20 L142.16,49.14 L142.34,49.08 L142.52,49.02 L142.70,48.96 L142.88,48.90 L143.06,48.84 L143.24,48.78 L143.42,48.72 L143.60,48.66 L143.78,48.60 L143.96,48.54 L144.14,48.48 L144.32,48.42 L144.50,48.36 L144.68,48.30 L144.86,48.24 L145.04,48.19 L145.22,48.13 L145.40,48.07 L145.58,48.02 L145.76,47.96 L145.94,47.90 L146.12,47.85 L146.30,47.79 L146.48,47.73 L146.66,47.68 L146.84,47.62 L147.02,47.57 L147.20,47.51 L147.38,47.46 L147.56,47.40 L147.74,47.35 L147.92,47.30 L148.10,47.24 L148.28,47.19 L148.46,47.14 L148.64,47.08 L148.82,47.03 L149.00,46.98 L149.18,46.93 L149.36,46.87 L149.54,46.82 L149.72,46.77 L149.90,46.72 L150.08,46.67 L150.26,46.62 L150.44,46.57 L150.62,46.52 L150.80,46.47 L150.98,46.42 L151.16,46.37 L151.34,46.32 L151.52,46.27 L151.70,46.22 L151.88,46.17 L152.06,46.12 L152.24,46.07 L152.42,46.03 L152.60,45.98 L152.78,45.93 L152.96,45.88 L153.14,45.83 L153.32,45.79 L153.50,45.74 L153.68,45.69 L153.86,45.65 L154.04,45.60 L154.22,45.55 L154.40,45.51 L154.58,45.46 L154.76,45.42 L154.94,45.37 L155.12,45.33 L155.30,45.28 L155.48,45.24 L155.66,45.19 L155.84,45.15 L156.02,45.10 L156.20,45.06 L156.38,45.02 L156.56,44.97 L156.74,44.93 L156.92,44.88 L157.10,44.84 L157.28,44.80 L157.46,44.76 L157.64,44.71 L157.82,44.67 L158.00,44.63 L158.18,44.59 L158.36,44.55 L158.54,44.50 L158.72,44.46 L158.90,44.42" fill="none" stroke="#000000" stroke-width="2.0" stroke-linejoin="round"/>
<g fill="#000000"><circle cx="86.9" cy="418.5" r="6.0"/><circle cx="86.8" cy="416.3" r="6.0"/><circle cx="87.0" cy="414.1" r="6.0"/><circle cx="87.0" cy="411.9" r="6.0"/><circle cx="86.9" cy="409.7" r="6.0"/><circle cx="87.1" cy="407.5" r="6.0"/><circle cx="87.4" cy="405.3" r="6.0"/><circle cx="87.8" cy="403.1" r="6.0"/><circle cx="88.1" cy="400.9" r="6.0"/><circle cx="88.1" cy="398.7" r="6.0"/><circle cx="87.9" cy="396.5" r="6.0"/><circle cx="87.8" cy="394.3" r="6.0"/><circle cx="88.0" cy="392.1" r="6.0"/><circle cx="88.0" cy="389.9" r="6.0"/><circle cx="87.7" cy="387.7" r="6.0"/><circle cx="87.6" cy="385.5" r="6.0"/><circle cx="87.8" cy="383.3" r="6.0"/><circle cx="87.9" cy="381.1" r="6.0"/><circle cx="87.5" cy="367.5" r="6.0"/><circle cx="87.5" cy="365.3" r="6.0"/><circle cx="87.4" cy="363.1" r="6.0"/><circle cx="87.8" cy="360.9" r="6.0"/><circle cx="88.1" cy="358.7" r="6.0"/><circle cx="87.9" cy="356.5" r="6.0"/><circle cx="87.9" cy="354.3" r="6.0"/><circle cx="87.9" cy="352.1" r="6.0"/><circle cx="87.6" cy="349.9" r="6.0"/><circle cx="87.3" cy="347.7" r="6.0"/><circle cx="87.4" cy="345.5" r="6.0"/><circle cx="88.0" cy="343.3" r="6.0"/><circle cx="88.4" cy="341.1" r="6.0"/><circle cx="88.6" cy="338.9" r="6.0"/><circle cx="88.5" cy="336.7" r="6.0"/><circle cx="88.0" cy="334.5" r="6.0"/><circle cx="88.0" cy="332.3" r="6.0"/><circle cx="88.2" cy="330.1" r="6.0"/><circle cx="88.2" cy="327.9" r="6.0"/><circle cx="88.3" cy="325.7" r="6.0"/><circle cx="88.1" cy="323.5" r="6.0"/><circle cx="87.8" cy="321.3" r="6.0"/><circle cx="88.0" cy="319.1" r="6.0"/><circle cx="88.4" cy="316.9" r="6.0"/><circle cx="88.3" cy="314.7" r="6.0"/><circle cx="88.1" cy="312.5" r="6.0"/><circle cx="88.1" cy="310.3" r="6.0"/><circle cx="88.1" cy="308.1" r="6.0"/><circle cx="88.0" cy="305.9" r="6.0"/><circle cx="88.0" cy="303.7" r="6.0"/><circle cx="88.0" cy="301.5" r="6.0"/><circle cx="87.7" cy="299.3" r="6.0"/><circle cx="87.5" cy="297.1" r="6.0"/><circle cx="87.6" cy="294.9" r="6.0"/><circle cx="87.8" cy="292.7" r="6.0"/><circle cx="87.7" cy="280.5" r="6.0"/><circle cx="87.6" cy="278.3" r="6.0"/><circle cx="88.1" cy="276.1" r="6.0"/><circle cx="88.8" cy="273.9" r="6.0"/><circle cx="89.1" cy="271.7" r="6.0"/><circle cx="88.7" cy="269.5" r="6.0"/><circle cx="88.2" cy="267.3" r="6.0"/><circle cx="88.4" cy="265.1" r="6.0"/><circle cx="89.2" cy="262.9" r="6.0"/><circle cx="89.6" cy="260.7" r="6.0"/><circle cx="89.0" cy="258.5" r="6.0"/><circle cx="88.2" cy="256.3" r="6.0"/><circle cx="88.6" cy="254.1" r="6.0"/><circle cx="89.4" cy="251.9" r="6.0"/><circle cx="89.1" cy="249.7" r="6.0"/><circle cx="88.4" cy="247.5" r="6.0"/><circle cx="88.4" cy="245.3" r="6.0"/><circle cx="88.5" cy="243.1" r="6.0"/><circle cx="88.5" cy="240.9" r="6.0"/><circle cx="88.7" cy="238.7" r="6.0"/><circle cx="88.9" cy="236.5" r="6.0"/><circle cx="89.2" cy="234.3" r="6.0"/><circle cx="89.2" cy="232.1" r="6.0"/><circle cx="89.1" cy="229.9" r="6.0"/><circle cx="89.5" cy="227.7" r="6.0"/><circle cx="89.4" cy="225.5" r="6.0"/><circle cx="88.8" cy="223.3" r="6.0"/><circle cx="88.7" cy="221.1" r="6.0"/><circle cx="88.9" cy="218.9" r="6.0"/><circle cx="88.8" cy="216.7" r="6.0"/><circle cx="88.8" cy="214.5" r="6.0"/><circle cx="89.2" cy="212.3" r="6.0"/><circle cx="89.4" cy="210.1" r="6.0"/><circle cx="89.1" cy="207.9" r="6.0"/><circle cx="88.9" cy="205.7" r="6.0"/><circle cx="88.9" cy="203.5" r="6.0"/><circle cx="88.8" cy="201.3" r="6.0"/><circle cx="88.9" cy="199.1" r="6.0"/><circle cx="89.2" cy="196.9" r="6.0"/><circle cx="89.5" cy="194.7" r="6.0"/><circle cx="90.1" cy="192.5" r="6.0"/><circle cx="89.9" cy="190.3" r="6.0"/><circle cx="89.3" cy="188.1" r="6.0"/><circle cx="89.4" cy="185.9" r="6.0"/><circle cx="89.6" cy="183.7" r="6.0"/><circle cx="89.9" cy="181.5" r="6.0"/><circle cx="89.8" cy="179.3" r="6.0"/><circle cx="89.5" cy="177.1" r="6.0"/><circle cx="89.9" cy="174.9" r="6.0"/><circle cx="90.6" cy="172.7" r="6.0"/><circle cx="90.8" cy="170.5" r="6.0"/><circle cx="90.6" cy="168.3" r="6.0"/><circle cx="90.7" cy="166.1" r="6.0"/><circle cx="90.6" cy="163.9" r="6.0"/><circle cx="90.6" cy="161.7" r="6.0"/><circle cx="91.1" cy="159.5" r="6.0"/><circle cx="91.9" cy="157.4" r="6.0"/><circle cx="92.5" cy="155.2" r="6.0"/><circle cx="92.8" cy="153.0" r="6.0"/><circle cx="92.6" cy="150.8" r="6.0"/><circle cx="92.4" cy="148.6" r="6.0"/><circle cx="92.3" cy="146.4" r="6.0"/><circle cx="91.9" cy="144.2" r="6.0"/><circle cx="92.3" cy="142.0" r="6.0"/><circle cx="92.8" cy="139.8" r="6.0"/><circle cx="92.7" cy="137.6" r="6.0"/><circle cx="92.7" cy="135.4" r="6.0"/><circle cx="93.1" cy="133.2" r="6.0"/><circle cx="93.3" cy="131.0" r="6.0"/><circle cx="93.3" cy="128.8" r="6.0"/><circle cx="93.4" cy="126.6" r="6.0"/><circle cx="93.8" cy="124.4" r="6.0"/><circle cx="93.8" cy="122.2" r="6.0"/><circle cx="93.9" cy="120.0" r="6.0"/><circle cx="94.3" cy="117.9" r="6.0"/><circle cx="94.1" cy="115.6" r="6.0"/><circle cx="94.0" cy="113.4" r="6.0"/><circle cx="94.7" cy="111.3" r="6.0"/><circle cx="95.6" cy="109.2" r="6.0"/><circle cx="95.8" cy="106.9" r="6.0"/><circle cx="96.4" cy="104.9" r="6.0"/><circle cx="97.4" cy="103.0" r="6.0"/><circle cx="98.5" cy="101.1" r="6.0"/><circle cx="99.0" cy="98.9" r="6.0"/><circle cx="99.8" cy="96.9" r="6.0"/><circle cx="101.0" cy="95.0" r="6.0"/><circle cx="101.7" cy="92.9" r="6.0"/><circle cx="102.6" cy="90.9" r="6.0"/><circle cx="103.7" cy="88.9" r="6.0"/><circle cx="104.5" cy="86.9" r="6.0"/><circle cx="105.7" cy="85.0" r="6.0"/><circle cx="106.7" cy="83.1" r="6.0"/><circle cx="107.0" cy="80.8" r="6.0"/><circle cx="107.1" cy="78.5" r="6.0"/><circle cx="107.8" cy="76.4" r="6.0"/><circle cx="109.1" cy="74.5" r="6.0"/><circle cx="110.4" cy="72.7" r="6.0"/><circle cx="111.4" cy="70.7" r="6.0"/><circle cx="112.1" cy="68.6" r="6.0"/><circle cx="112.8" cy="66.5" r="6.0"/><circle cx="113.6" cy="64.5" r="6.0"/><circle cx="114.5" cy="62.5" r="6.0"/><circle cx="115.3" cy="60.5" r="6.0"/><circle cx="116.0" cy="58.4" r="6.0"/><circle cx="117.1" cy="56.4" r="6.0"/><circle cx="118.4" cy="54.5" r="6.0"/><circle cx="118.5" cy="52.3" r="6.0"/><circle cx="118.9" cy="50.1" r="6.0"/><circle cx="120.3" cy="48.2" r="6.0"/><circle cx="120.9" cy="46.1" r="6.0"/><circle cx="121.2" cy="43.9" r="6.0"/><circle cx="122.2" cy="41.9" r="6.0"/><circle cx="122.9" cy="39.8" r="6.0"/><circle cx="127.0" cy="38.5" r="6.0"/><circle cx="135.0" cy="37.2" r="6.0"/><circle cx="155.2" cy="34.7" r="6.0"/></g>
<path d="M560,325.8 L590,325.8" stroke="#000000" stroke-width="1.9"/>
<circle cx="575" cy="325.8" r="6" fill="#000000"/>
<path d="M560,360.2 L590,360.2" stroke="#ff0000" stroke-width="1.9"/>
<circle cx="575" cy="360.2" r="6" fill="#ff0000"/>
<path d="M560,390.3 L590,390.3" stroke="#0000ff" stroke-width="1.9"/>
<circle cx="575" cy="390.3" r="6" fill="#0000ff"/>
<path d="M837.3,5.0 L837.3,438.1 L1513.6000000000001,438.1" fill="none" stroke="#000" stroke-width="1.8" stroke-linejoin="miter" stroke-linecap="square"/>
<path d="M844.30,438.1 L844.30,430.8 M918.60,438.1 L918.60,430.8 M992.90,438.1 L992.90,430.8 M1067.20,438.1 L1067.20,430.8 M1141.50,438.1 L1141.50,430.8 M1215.80,438.1 L1215.80,430.8 M1290.10,438.1 L1290.10,430.8 M1364.40,438.1 L1364.40,430.8 M1438.70,438.1 L1438.70,430.8 M1512.70,438.1 L1512.70,430.8 M837.3,417.50 L844.5999999999999,417.50 M837.3,339.00 L844.5999999999999,339.00 M837.3,260.50 L844.5999999999999,260.50 M837.3,182.00 L844.5999999999999,182.00 M837.3,103.50 L844.5999999999999,103.50 M837.3,25.00 L844.5999999999999,25.00 " stroke="#000" stroke-width="1.8" fill="none"/>
<path d="M837.20,404.89 L838.86,402.39 L840.52,399.89 L842.18,397.42 L843.83,394.96 L845.49,392.51 L847.15,390.08 L848.81,387.66 L850.47,385.26 L852.13,382.87 L853.78,380.50 L855.44,378.14 L857.10,375.80 L858.76,373.47 L860.42,371.15 L862.08,368.85 L863.73,366.56 L865.39,364.28 L867.05,362.02 L868.71,359.78 L870.37,357.54 L872.03,355.32 L873.68,353.11 L875.34,350.92 L877.00,348.74 L878.66,346.57 L880.32,344.42 L881.98,342.28 L883.64,340.15 L885.29,338.03 L886.95,335.93 L888.61,333.84 L890.27,331.76 L891.93,329.70 L893.59,327.65 L895.24,325.61 L896.90,323.58 L898.56,321.56 L900.22,319.56 L901.88,317.57 L903.54,315.59 L905.19,313.62 L906.85,311.67 L908.51,309.73 L910.17,307.79 L911.83,305.87 L913.49,303.96 L915.14,302.07 L916.80,300.18 L918.46,298.31 L920.12,296.45 L921.78,294.59 L923.44,292.75 L925.09,290.92 L926.75,289.11 L928.41,287.30 L930.07,285.50 L931.73,283.72 L933.39,281.94 L935.05,280.18 L936.70,278.42 L938.36,276.68 L940.02,274.95 L941.68,273.23 L943.34,271.51 L945.00,269.81 L946.65,268.12 L948.31,266.44 L949.97,264.77 L951.63,263.11 L953.29,261.46 L954.95,259.82 L956.60,258.19 L958.26,256.57 L959.92,254.96 L961.58,253.36 L963.24,251.76 L964.90,250.18 L966.55,248.61 L968.21,247.05 L969.87,245.49 L971.53,243.95 L973.19,242.41 L974.85,240.89 L976.51,239.37 L978.16,237.87 L979.82,236.37 L981.48,234.88 L983.14,233.40 L984.80,231.93 L986.46,230.46 L988.11,229.01 L989.77,227.57 L991.43,226.13 L993.09,224.70 L994.75,223.28 L996.41,221.87 L998.06,220.47 L999.72,219.08 L1001.38,217.69 L1003.04,216.32 L1004.70,214.95 L1006.36,213.59 L1008.01,212.24 L1009.67,210.90 L1011.33,209.56 L1012.99,208.23 L1014.65,206.91 L1016.31,205.60 L1017.97,204.30 L1019.62,203.00 L1021.28,201.71 L1022.94,200.43 L1024.60,199.16 L1026.26,197.90 L1027.92,196.64 L1029.57,195.39 L1031.23,194.15 L1032.89,192.92 L1034.55,191.69 L1036.21,190.47 L1037.87,189.26 L1039.52,188.05 L1041.18,186.85 L1042.84,185.66 L1044.50,184.48 L1046.16,183.31 L1047.82,182.14 L1049.47,180.97 L1051.13,179.82 L1052.79,178.67 L1054.45,177.53 L1056.11,176.40 L1057.77,175.27 L1059.43,174.15 L1061.08,173.04 L1062.74,171.93 L1064.40,170.83 L1066.06,169.73 L1067.72,168.65 L1069.38,167.57 L1071.03,166.49 L1072.69,165.43 L1074.35,164.37 L1076.01,163.31 L1077.67,162.26 L1079.33,161.22 L1080.98,160.18 L1082.64,159.16 L1084.30,158.13 L1085.96,157.12 L1087.62,156.10 L1089.28,155.10 L1090.93,154.10 L1092.59,153.11 L1094.25,152.12 L1095.91,151.14 L1097.57,150.17 L1099.23,149.20 L1100.88,148.23 L1102.54,147.28 L1104.20,146.33 L1105.86,145.38 L1107.52,144.44 L1109.18,143.51 L1110.84,142.58 L1112.49,141.65 L1114.15,140.74 L1115.81,139.82 L1117.47,138.92 L1119.13,138.02 L1120.79,137.12 L1122.44,136.23 L1124.10,135.35 L1125.76,134.47 L1127.42,133.59 L1129.08,132.72 L1130.74,131.86 L1132.39,131.00 L1134.05,130.15 L1135.71,129.30 L1137.37,128.46 L1139.03,127.62 L1140.69,126.79 L1142.34,125.96 L1144.00,125.14 L1145.66,124.32 L1147.32,123.50 L1148.98,122.70 L1150.64,121.89 L1152.30,121.10 L1153.95,120.30 L1155.61,119.51 L1157.27,118.73 L1158.93,117.95 L1160.59,117.18 L1162.25,116.41 L1163.90,115.64 L1165.56,114.88 L1167.22,114.12 L1168.88,113.37 L1170.54,112.63 L1172.20,111.88 L1173.85,111.15 L1175.51,110.41 L1177.17,109.68 L1178.83,108.96 L1180.49,108.24 L1182.15,107.52 L1183.80,106.81 L1185.46,106.10 L1187.12,105.40 L1188.78,104.70 L1190.44,104.01 L1192.10,103.32 L1193.76,102.63 L1195.41,101.95 L1197.07,101.27 L1198.73,100.60 L1200.39,99.93 L1202.05,99.26 L1203.71,98.60 L1205.36,97.94 L1207.02,97.29 L1208.68,96.64 L1210.34,95.99 L1212.00,95.35 L1213.66,94.71 L1215.31,94.08 L1216.97,93.45 L1218.63,92.82 L1220.29,92.20 L1221.95,91.58 L1223.61,90.96 L1225.26,90.35 L1226.92,89.74 L1228.58,89.14 L1230.24,88.54 L1231.90,87.94 L1233.56,87.35 L1235.22,86.76 L1236.87,86.17 L1238.53,85.59 L1240.19,85.01 L1241.85,84.43 L1243.51,83.86 L1245.17,83.29 L1246.82,82.73 L1248.48,82.17 L1250.14,81.61 L1251.80,81.05 L1253.46,80.50 L1255.12,79.95 L1256.77,79.41 L1258.43,78.86 L1260.09,78.33 L1261.75,77.79 L1263.41,77.26 L1265.07,76.73 L1266.72,76.20 L1268.38,75.68 L1270.04,75.16 L1271.70,74.65 L1273.36,74.13 L1275.02,73.62 L1276.67,73.12 L1278.33,72.61 L1279.99,72.11 L1281.65,71.61 L1283.31,71.12 L1284.97,70.63 L1286.63,70.14 L1288.28,69.65 L1289.94,69.17 L1291.60,68.69 L1293.26,68.21 L1294.92,67.74 L1296.58,67.26 L1298.23,66.80 L1299.89,66.33 L1301.55,65.87 L1303.21,65.41 L1304.87,64.95 L1306.53,64.49 L1308.18,64.04 L1309.84,63.59 L1311.50,63.15 L1313.16,62.70 L1314.82,62.26 L1316.48,61.82 L1318.13,61.39 L1319.79,60.95 L1321.45,60.52 L1323.11,60.10 L1324.77,59.67 L1326.43,59.25 L1328.09,58.83 L1329.74,58.41 L1331.40,58.00 L1333.06,57.58 L1334.72,57.17 L1336.38,56.76 L1338.04,56.36 L1339.69,55.96 L1341.35,55.56 L1343.01,55.16 L1344.67,54.76 L1346.33,54.37 L1347.99,53.98 L1349.64,53.59 L1351.30,53.20 L1352.96,52.82 L1354.62,52.44 L1356.28,52.06 L1357.94,51.68 L1359.59,51.31 L1361.25,50.94 L1362.91,50.57 L1364.57,50.20 L1366.23,49.83 L1367.89,49.47 L1369.55,49.11 L1371.20,48.75 L1372.86,48.39 L1374.52,48.04 L1376.18,47.68 L1377.84,47.33 L1379.50,46.98 L1381.15,46.64 L1382.81,46.29 L1384.47,45.95 L1386.13,45.61 L1387.79,45.27 L1389.45,44.94 L1391.10,44.60 L1392.76,44.27 L1394.42,43.94 L1396.08,43.61 L1397.74,43.29 L1399.40,42.97 L1401.05,42.64 L1402.71,42.32 L1404.37,42.00 L1406.03,41.69 L1407.69,41.37 L1409.35,41.06 L1411.01,40.75 L1412.66,40.44 L1414.32,40.14 L1415.98,39.83 L1417.64,39.53 L1419.30,39.23 L1420.96,38.93 L1422.61,38.63 L1424.27,38.33 L1425.93,38.04 L1427.59,37.75 L1429.25,37.46 L1430.91,37.17 L1432.56,36.88 L1434.22,36.60 L1435.88,36.31 L1437.54,36.03 L1439.20,35.75 L1440.86,35.47 L1442.51,35.20 L1444.17,34.92 L1445.83,34.65 L1447.49,34.37 L1449.15,34.10 L1450.81,33.84 L1452.46,33.57 L1454.12,33.30 L1455.78,33.04 L1457.44,32.78 L1459.10,32.52 L1460.76,32.26 L1462.42,32.00 L1464.07,31.75 L1465.73,31.49 L1467.39,31.24 L1469.05,30.99 L1470.71,30.74 L1472.37,30.49 L1474.02,30.24 L1475.68,30.00 L1477.34,29.75 L1479.00,29.51 L1480.66,29.27 L1482.32,29.03 L1483.97,28.79 L1485.63,28.56 L1487.29,28.32 L1488.95,28.09 L1490.61,27.86 L1492.27,27.62 L1493.92,27.40 L1495.58,27.17 L1497.24,26.94 L1498.90,26.72" fill="none" stroke="#d01818" stroke-width="2.0" stroke-linejoin="round"/>
<g fill="#ff0000"><circle cx="867.7" cy="348.1" r="5.0"/><circle cx="898.0" cy="324.8" r="5.0"/><circle cx="917.6" cy="301.9" r="5.0"/><circle cx="939.6" cy="278.9" r="5.0"/><circle cx="965.9" cy="255.6" r="5.0"/><circle cx="975.0" cy="232.7" r="5.0"/><circle cx="980.7" cy="209.7" r="5.0"/><circle cx="1012.8" cy="186.1" r="5.0"/><circle cx="1121.8" cy="163.5" r="5.0"/><circle cx="1171.6" cy="140.3" r="5.0"/><circle cx="1185.0" cy="117.5" r="5.0"/><circle cx="1251.7" cy="94.2" r="5.0"/><circle cx="1261.3" cy="71.1" r="5.0"/><circle cx="1279.7" cy="48.0" r="5.0"/><circle cx="1467.1" cy="24.6" r="5.0"/></g>
<path d="M843.56,438.10 L843.65,438.10 L843.74,438.10 L843.84,438.10 L843.93,438.10 L844.02,438.10 L844.12,431.98 L844.21,424.55 L844.30,417.26 L844.40,410.11 L844.49,403.11 L844.58,396.25 L844.68,389.52 L844.77,382.93 L844.86,376.47 L844.96,370.13 L845.05,363.93 L845.14,357.84 L845.24,351.88 L845.33,346.04 L845.42,340.31 L845.52,334.69 L845.61,329.19 L845.70,323.80 L845.80,318.51 L845.89,313.33 L845.98,308.25 L846.08,303.28 L846.17,298.40 L846.26,293.62 L846.36,288.93 L846.45,284.34 L846.54,279.84 L846.63,275.43 L846.73,271.10 L846.82,266.87 L846.91,262.71 L847.01,258.64 L847.10,254.65 L847.19,250.74 L847.29,246.91 L847.38,243.15 L847.47,239.47 L847.57,235.86 L847.66,232.32 L847.75,228.85 L847.85,225.46 L847.94,222.13 L848.03,218.86 L848.13,215.66 L848.22,212.53 L848.31,209.45 L848.41,206.44 L848.50,203.49 L848.59,200.60 L848.69,197.76 L848.78,194.98 L848.87,192.26 L848.97,189.59 L849.06,186.97 L849.15,184.40 L849.25,181.89 L849.34,179.43 L849.43,177.01 L849.53,174.64 L849.62,172.32 L849.71,170.05 L849.81,167.82 L849.90,165.64 L849.99,163.50 L850.09,161.40 L850.18,159.34 L850.27,157.33 L850.37,155.35 L850.46,153.41 L850.55,151.52 L850.65,149.66 L850.74,147.83 L850.83,146.05 L850.93,144.29 L851.02,142.58 L851.11,140.90 L851.20,139.25 L851.30,137.63 L851.39,136.05 L851.48,134.49 L851.58,132.97 L851.67,131.48 L851.76,130.02 L851.86,128.59 L851.95,127.18 L852.04,125.81 L852.14,124.46 L852.23,123.14 L852.32,121.84 L852.42,120.57 L852.51,119.32 L852.60,118.10 L852.70,116.91 L852.79,115.74 L852.88,114.59 L852.98,113.46 L853.07,112.36 L853.16,111.28 L853.26,110.22 L853.35,109.18 L853.44,108.16 L853.54,107.16 L853.63,106.18 L853.72,105.23 L853.82,104.29 L853.91,103.36 L854.00,102.46 L854.10,101.58 L854.19,100.71 L854.28,99.86 L854.38,99.03 L854.47,98.21 L854.56,97.41 L854.66,96.63 L854.75,95.86 L854.84,95.10 L854.94,94.37 L855.03,93.64 L855.12,92.93 L855.22,92.24 L855.31,91.56 L855.40,90.89 L855.50,90.23 L855.59,89.59 L855.68,88.96 L855.78,88.35 L855.87,87.74 L855.96,87.15 L856.05,86.57 L856.15,86.00 L856.24,85.45 L856.33,84.90 L856.43,84.36 L856.52,83.84 L856.61,83.32 L856.71,82.82 L856.80,82.33 L856.89,81.84 L856.99,81.37 L857.08,80.90 L857.17,80.45 L857.27,80.00 L857.36,79.56 L857.45,79.13 L857.55,78.71 L857.64,78.30 L857.73,77.89 L857.83,77.50 L857.92,77.11 L858.01,76.73 L858.11,76.36 L858.20,75.99 L858.29,75.63 L858.39,75.28 L858.48,74.94 L858.57,74.60 L858.67,74.27 L858.76,73.94 L858.85,73.63 L858.95,73.32 L859.04,73.01 L859.13,72.71 L859.23,72.42 L859.32,72.13 L859.41,71.85 L859.51,71.57 L859.60,71.30 L859.69,71.04 L859.79,70.78 L859.88,70.52 L859.97,70.27 L860.07,70.03 L860.16,69.79 L860.25,69.55 L860.35,69.32 L860.44,69.10 L860.53,68.88 L860.63,68.66 L860.72,68.45 L860.81,68.24 L860.90,68.03 L861.00,67.83 L861.09,67.64 L861.18,67.45 L861.28,67.26 L861.37,67.07 L861.46,66.89 L861.56,66.71 L861.65,66.54 L861.74,66.37 L861.84,66.20 L861.93,66.04 L862.02,65.88 L862.12,65.72 L862.21,65.57 L862.30,65.42 L862.40,65.27 L862.49,65.12 L862.58,64.98 L862.68,64.84 L862.77,64.71 L862.86,64.57 L862.96,64.44 L863.05,64.31 L863.14,64.19 L863.24,64.06 L863.33,63.94 L863.42,63.82 L863.52,63.71 L863.61,63.59 L863.70,63.48 L863.80,63.37 L863.89,63.26 L863.98,63.16 L864.08,63.05 L864.17,62.95 L864.26,62.85 L864.36,62.76 L864.45,62.66 L864.54,62.57 L864.64,62.48 L864.73,62.39 L864.82,62.30 L864.92,62.21 L865.01,62.13 L865.10,62.05 L865.20,61.97 L865.29,61.89 L865.38,61.81 L865.48,61.73 L865.57,61.66 L865.66,61.58 L865.75,61.51 L865.85,61.44 L865.94,61.37 L866.03,61.30 L866.13,61.24 L866.22,61.17 L866.31,61.11 L866.41,61.05 L866.50,60.99 L866.59,60.93 L866.69,60.87 L866.78,60.81 L866.87,60.75 L866.97,60.70 L867.06,60.64 L867.15,60.59 L867.25,60.54 L867.34,60.49 L867.43,60.44 L867.53,60.39 L867.62,60.34 L867.71,60.29 L867.81,60.25 L867.90,60.20 L867.99,60.16 L868.09,60.11 L868.18,60.07 L868.27,60.03 L868.37,59.99 L868.46,59.95 L868.55,59.91 L868.65,59.87 L868.74,59.83 L868.83,59.80 L868.93,59.76 L869.02,59.72 L869.11,59.69 L869.21,59.65 L869.30,59.62 L869.39,59.59 L869.49,59.56 L869.58,59.52 L869.67,59.49 L869.77,59.46 L869.86,59.43 L869.95,59.40 L870.05,59.38 L870.14,59.35 L870.23,59.32 L870.32,59.29 L870.42,59.27 L870.51,59.24 L870.60,59.22 L870.70,59.19 L870.79,59.17 L870.88,59.14 L870.98,59.12 L871.07,59.10 L871.16,59.07 L871.26,59.05 L871.35,59.03 L871.44,59.01 L871.54,58.99 L871.63,58.97 L871.72,58.95 L871.82,58.93 L871.91,58.91 L872.00,58.89 L872.10,58.87 L872.19,58.86 L872.28,58.84 L872.38,58.82 L872.47,58.80 L872.56,58.79 L872.66,58.77 L872.75,58.76 L872.84,58.74 L872.94,58.72 L873.03,58.71 L873.12,58.69 L873.22,58.68 L873.31,58.67 L873.40,58.65 L873.50,58.64 L873.59,58.63 L873.68,58.61 L873.78,58.60 L873.87,58.59 L873.96,58.57 L874.06,58.56 L874.15,58.55 L874.24,58.54 L874.34,58.53 L874.43,58.52 L874.52,58.51 L874.62,58.50 L874.71,58.49 L874.80,58.47 L874.90,58.46 L874.99,58.45 L875.08,58.45 L875.17,58.44 L875.27,58.43 L875.36,58.42 L875.45,58.41 L875.55,58.40 L875.64,58.39 L875.73,58.38 L875.83,58.37 L875.92,58.37 L876.01,58.36 L876.11,58.35 L876.20,58.34 L876.29,58.34 L876.39,58.33 L876.48,58.32 L876.57,58.31 L876.67,58.31 L876.76,58.30 L876.85,58.29 L876.95,58.29 L877.04,58.28 L877.13,58.28 L877.23,58.27 L877.32,58.26 L877.41,58.26 L877.51,58.25 L877.60,58.25 L877.69,58.24 L877.79,58.24 L877.88,58.23 L877.97,58.23 L878.07,58.22 L878.16,58.21 L878.25,58.21 L878.35,58.21 L878.44,58.20 L878.53,58.20 L878.63,58.19 L878.72,58.19 L878.81,58.18 L878.91,58.18 L879.00,58.17 L879.09,58.17 L879.19,58.17 L879.28,58.16 L879.37,58.16 L879.47,58.15 L879.56,58.15 L879.65,58.15 L879.75,58.14 L879.84,58.14 L879.93,58.14 L880.02,58.13 L880.12,58.13 L880.21,58.13 L880.30,58.12 L880.40,58.12 L880.49,58.12 L880.58,58.12 L880.68,58.11 L880.77,58.11 L880.86,58.11 L880.96,58.10 L881.05,58.10 L881.14,58.10 L881.24,58.10 L881.33,58.09 L881.42,58.09 L881.52,58.09 L881.61,58.09 L881.70,58.08 L881.80,58.08 L881.89,58.08 L881.98,58.08 L882.08,58.08 L882.17,58.07 L882.26,58.07 L882.36,58.07 L882.45,58.07 L882.54,58.07 L882.64,58.06 L882.73,58.06 L882.82,58.06 L882.92,58.06 L883.01,58.06 L883.10,58.05 L883.20,58.05 L883.29,58.05 L883.38,58.05 L883.48,58.05 L883.57,58.05 L883.66,58.04 L883.76,58.04 L883.85,58.04 L883.94,58.04 L884.04,58.04 L884.13,58.04 L884.22,58.04 L884.32,58.04 L884.41,58.03 L884.50,58.03 L884.59,58.03 L884.69,58.03 L884.78,58.03 L884.87,58.03 L884.97,58.03 L885.06,58.03 L885.15,58.02 L885.25,58.02 L885.34,58.02 L885.43,58.02 L885.53,58.02 L885.62,58.02 L885.71,58.02 L885.81,58.02 L885.90,58.02 L885.99,58.02 L886.09,58.01 L886.18,58.01 L886.27,58.01 L886.37,58.01 L886.46,58.01 L886.55,58.01 L886.65,58.01 L886.74,58.01 L886.83,58.01 L886.93,58.01 L887.02,58.01 L887.11,58.01 L887.21,58.00 L887.30,58.00 L887.39,58.00 L887.49,58.00 L887.58,58.00 L887.67,58.00 L887.77,58.00 L887.86,58.00 L887.95,58.00 L888.05,58.00 L888.14,58.00 L888.23,58.00 L888.33,58.00 L888.42,58.00 L888.51,58.00 L888.61,58.00 L888.70,58.00 L888.79,57.99 L888.89,57.99 L888.98,57.99 L889.07,57.99 L889.17,57.99 L889.26,57.99 L889.35,57.99 L889.44,57.99 L889.54,57.99 L889.63,57.99 L889.72,57.99 L889.82,57.99 L889.91,57.99 L890.00,57.99 L890.10,57.99 L890.19,57.99 L890.28,57.99 L890.38,57.99 L890.47,57.99 L890.56,57.99 L890.66,57.99 L890.75,57.99 L890.84,57.99 L890.94,57.99 L891.03,57.99 L891.12,57.99 L891.22,57.98 L891.31,57.98 L891.40,57.98 L891.50,57.98 L891.59,57.98 L891.68,57.98 L891.78,57.98 L891.87,57.98 L891.96,57.98 L892.06,57.98 L892.15,57.98 L892.24,57.98 L892.34,57.98 L892.43,57.98 L892.52,57.98 L892.62,57.98 L892.71,57.98 L892.80,57.98 L892.90,57.98 L892.99,57.98 L893.08,57.98 L893.18,57.98 L893.27,57.98 L893.36,57.98 L893.46,57.98 L893.55,57.98 L893.64,57.98 L893.74,57.98 L893.83,57.98 L893.92,57.98 L894.02,57.98 L894.11,57.98 L894.20,57.98 L894.29,57.98 L894.39,57.98 L894.48,57.98 L894.57,57.98 L894.67,57.98 L894.76,57.98 L894.85,57.98 L894.95,57.98 L895.04,57.98 L895.13,57.98 L895.23,57.98 L895.32,57.98 L895.41,57.98 L895.51,57.98 L895.60,57.98 L895.69,57.98 L895.79,57.98 L895.88,57.98 L895.97,57.98 L896.07,57.98 L896.16,57.98 L896.25,57.97 L896.35,57.97 L896.44,57.97 L896.53,57.97 L896.63,57.97 L896.72,57.97 L896.81,57.97 L896.91,57.97 L897.00,57.97 L897.09,57.97 L897.19,57.97 L897.28,57.97 L897.37,57.97 L897.47,57.97 L897.56,57.97 L897.65,57.97 L897.75,57.97 L897.84,57.97 L897.93,57.97 L898.03,57.97 L898.12,57.97 L898.21,57.97 L898.31,57.97 L898.40,57.97 L898.49,57.97 L898.59,57.97 L898.68,57.97 L898.77,57.97 L898.87,57.97 L898.96,57.97 L899.05,57.97 L899.14,57.97 L899.24,57.97 L899.33,57.97 L899.42,57.97 L899.52,57.97 L899.61,57.97 L899.70,57.97 L899.80,57.97 L899.89,57.97 L899.98,57.97 L900.08,57.97 L900.17,57.97 L900.26,57.97 L900.36,57.97 L900.45,57.97 L900.54,57.97 L900.64,57.97 L900.73,57.97 L900.82,57.97 L900.92,57.97 L901.01,57.97 L901.10,57.97 L901.20,57.97 L901.29,57.97 L901.38,57.97 L901.48,57.97 L901.57,57.97 L901.66,57.97 L901.76,57.97 L901.85,57.97 L901.94,57.97 L902.04,57.97 L902.13,57.97 L902.22,57.97 L902.32,57.97 L902.41,57.97 L902.50,57.97 L902.60,57.97 L902.69,57.97 L902.78,57.97 L902.88,57.97 L902.97,57.97 L903.06,57.97 L903.16,57.97 L903.25,57.97 L903.34,57.97 L903.44,57.97 L903.53,57.97 L903.62,57.97 L903.71,57.97 L903.81,57.97 L903.90,57.97 L903.99,57.97 L904.09,57.97 L904.18,57.97 L904.27,57.97 L904.37,57.97 L904.46,57.97 L904.55,57.97 L904.65,57.97 L904.74,57.97 L904.83,57.97 L904.93,57.97 L905.02,57.97 L905.11,57.97 L905.21,57.97 L905.30,57.97 L905.39,57.97 L905.49,57.97 L905.58,57.97 L905.67,57.97 L905.77,57.97 L905.86,57.97 L905.95,57.97 L906.05,57.97 L906.14,57.97 L906.23,57.97 L906.33,57.97 L906.42,57.97 L906.51,57.97 L906.61,57.97 L906.70,57.97 L906.79,57.97 L906.89,57.97 L906.98,57.97 L907.07,57.97 L907.17,57.97 L907.26,57.97 L907.35,57.97 L907.45,57.97 L907.54,57.97 L907.63,57.97 L907.73,57.97 L907.82,57.97 L907.91,57.97 L908.01,57.97 L908.10,57.97 L908.19,57.97 L908.29,57.97 L908.38,57.97 L908.47,57.97 L908.56,57.97 L908.66,57.97 L908.75,57.97 L908.84,57.97 L908.94,57.97 L909.03,57.97 L909.12,57.97 L909.22,57.97 L909.31,57.97 L909.40,57.97 L909.50,57.97 L909.59,57.97 L909.68,57.97 L909.78,57.97 L909.87,57.97 L909.96,57.97 L910.06,57.97 L910.15,57.97 L910.24,57.97 L910.34,57.97 L910.43,57.97 L910.52,57.97 L910.62,57.97 L910.71,57.97 L910.80,57.97 L910.90,57.97 L910.99,57.97 L911.08,57.97 L911.18,57.97 L911.27,57.97 L911.36,57.97 L911.46,57.97 L911.55,57.97 L911.64,57.97 L911.74,57.97 L911.83,57.97 L911.92,57.97 L912.02,57.97 L912.11,57.97 L912.20,57.97 L912.30,57.97 L912.39,57.97 L912.48,57.97 L912.58,57.97 L912.67,57.97 L912.76,57.97 L912.86,57.97 L912.95,57.97 L913.04,57.97 L913.14,57.97 L913.23,57.97 L913.32,57.97 L913.41,57.97 L913.51,57.97 L913.60,57.97 L913.69,57.97 L913.79,57.97 L913.88,57.97 L913.97,57.97 L914.07,57.97 L914.16,57.97 L914.25,57.97 L914.35,57.97 L914.44,57.97 L914.53,57.97 L914.63,57.97 L914.72,57.97 L914.81,57.97 L914.91,57.97 L915.00,57.97 L915.09,57.97 L915.19,57.97 L915.28,57.97 L915.37,57.97 L915.47,57.97 L915.56,57.97 L915.65,57.97 L915.75,57.97 L915.84,57.97 L915.93,57.97 L916.03,57.97 L916.12,57.97 L916.21,57.97 L916.31,57.97 L916.40,57.97 L916.49,57.97 L916.59,57.97 L916.68,57.97 L916.77,57.97 L916.87,57.97 L916.96,57.97 L917.05,57.97 L917.15,57.97 L917.24,57.97 L917.33,57.97 L917.43,57.97 L917.52,57.97 L917.61,57.97 L917.71,57.97 L917.80,57.97 L917.89,57.97 L917.98,57.97 L918.08,57.97 L918.17,57.97 L918.26,57.97 L918.36,57.97 L918.45,57.97 L918.54,57.97 L918.64,57.97 L918.73,57.97 L918.82,57.97 L918.92,57.97 L919.01,57.97 L919.10,57.97 L919.20,57.97 L919.29,57.97 L919.38,57.97 L919.48,57.97 L919.57,57.97 L919.66,57.97 L919.76,57.97 L919.85,57.97 L919.94,57.97 L920.04,57.97 L920.13,57.97 L920.22,57.97 L920.32,57.97 L920.41,57.97 L920.50,57.97 L920.60,57.97 L920.69,57.97 L920.78,57.97 L920.88,57.97 L920.97,57.97 L921.06,57.97 L921.16,57.97 L921.25,57.97 L921.34,57.97 L921.44,57.97 L921.53,57.97 L921.62,57.97 L921.72,57.97 L921.81,57.97 L921.90,57.97 L922.00,57.97 L922.09,57.97 L922.18,57.97 L922.28,57.97 L922.37,57.97 L922.46,57.97 L922.56,57.97 L922.65,57.97 L922.74,57.97 L922.83,57.97 L922.93,57.97 L923.02,57.97 L923.11,57.97 L923.21,57.97 L923.30,57.97 L923.39,57.97 L923.49,57.97 L923.58,57.97 L923.67,57.97 L923.77,57.97 L923.86,57.97 L923.95,57.97 L924.05,57.97 L924.14,57.97 L924.23,57.97 L924.33,57.97 L924.42,57.97 L924.51,57.97 L924.61,57.97 L924.70,57.97 L924.79,57.97 L924.89,57.97 L924.98,57.97 L925.07,57.97 L925.17,57.97 L925.26,57.97 L925.35,57.97 L925.45,57.97 L925.54,57.97 L925.63,57.97 L925.73,57.97 L925.82,57.97 L925.91,57.97 L926.01,57.97 L926.10,57.97 L926.19,57.97 L926.29,57.97 L926.38,57.97 L926.47,57.97 L926.57,57.97 L926.66,57.97 L926.75,57.97 L926.85,57.97 L926.94,57.97 L927.03,57.97 L927.13,57.97 L927.22,57.97 L927.31,57.97 L927.41,57.97 L927.50,57.97 L927.59,57.97 L927.68,57.97 L927.78,57.97 L927.87,57.97 L927.96,57.97 L928.06,57.97 L928.15,57.97 L928.24,57.97 L928.34,57.97 L928.43,57.97 L928.52,57.97 L928.62,57.97 L928.71,57.97 L928.80,57.97 L928.90,57.97 L928.99,57.97 L929.08,57.97 L929.18,57.97 L929.27,57.97 L929.36,57.97 L929.46,57.97 L929.55,57.97 L929.64,57.97 L929.74,57.97 L929.83,57.97 L929.92,57.97 L930.02,57.97 L930.11,57.97 L930.20,57.97 L930.30,57.97 L930.39,57.97 L930.48,57.97 L930.58,57.97 L930.67,57.97 L930.76,57.97 L930.86,57.97 L930.95,57.97 L931.04,57.97 L931.14,57.97 L931.23,57.97 L931.32,57.97 L931.42,57.97 L931.51,57.97 L931.60,57.97 L931.70,57.97 L931.79,57.97 L931.88,57.97 L931.98,57.97 L932.07,57.97 L932.16,57.97 L932.25,57.97 L932.35,57.97 L932.44,57.97 L932.53,57.97 L932.63,57.97 L932.72,57.97 L932.81,57.97 L932.91,57.97 L933.00,57.97 L933.09,57.97 L933.19,57.97 L933.28,57.97 L933.37,57.97 L933.47,57.97 L933.56,57.97 L933.65,57.97 L933.75,57.97 L933.84,57.97 L933.93,57.97 L934.03,57.97 L934.12,57.97 L934.21,57.97 L934.31,57.97 L934.40,57.97 L934.49,57.97 L934.59,57.97 L934.68,57.97 L934.77,57.97 L934.87,57.97 L934.96,57.97 L935.05,57.97 L935.15,57.97 L935.24,57.97 L935.33,57.97 L935.43,57.97 L935.52,57.97 L935.61,57.97 L935.71,57.97 L935.80,57.97 L935.89,57.97 L935.99,57.97 L936.08,57.97 L936.17,57.97 L936.27,57.97 L936.36,57.97 L936.45,57.97 L936.55,57.97 L936.64,57.97 L936.73,57.97 L936.83,57.97 L936.92,57.97 L937.01,57.97 L937.10,57.97 L937.20,57.97 L937.29,57.97 L937.38,57.97 L937.48,57.97 L937.57,57.97 L937.66,57.97 L937.76,57.97 L937.85,57.97 L937.94,57.97 L938.04,57.97 L938.13,57.97 L938.22,57.97 L938.32,57.97 L938.41,57.97 L938.50,57.97 L938.60,57.97 L938.69,57.97 L938.78,57.97 L938.88,57.97 L938.97,57.97 L939.06,57.97 L939.16,57.97 L939.25,57.97 L939.34,57.97 L939.44,57.97 L939.53,57.97 L939.62,57.97 L939.72,57.97 L939.81,57.97 L939.90,57.97 L940.00,57.97 L940.09,57.97 L940.18,57.97 L940.28,57.97 L940.37,57.97 L940.46,57.97 L940.56,57.97 L940.65,57.97 L940.74,57.97 L940.84,57.97 L940.93,57.97 L941.02,57.97 L941.12,57.97 L941.21,57.97 L941.30,57.97 L941.40,57.97 L941.49,57.97 L941.58,57.97 L941.68,57.97 L941.77,57.97 L941.86,57.97 L941.95,57.97 L942.05,57.97 L942.14,57.97 L942.23,57.97 L942.33,57.97 L942.42,57.97 L942.51,57.97 L942.61,57.97 L942.70,57.97 L942.79,57.97 L942.89,57.97 L942.98,57.97 L943.07,57.97 L943.17,57.97 L943.26,57.97 L943.35,57.97 L943.45,57.97 L943.54,57.97 L943.63,57.97 L943.73,57.97 L943.82,57.97 L943.91,57.97 L944.01,57.97 L944.10,57.97 L944.19,57.97 L944.29,57.97 L944.38,57.97 L944.47,57.97 L944.57,57.97 L944.66,57.97 L944.75,57.97 L944.85,57.97 L944.94,57.97 L945.03,57.97 L945.13,57.97 L945.22,57.97 L945.31,57.97 L945.41,57.97 L945.50,57.97 L945.59,57.97 L945.69,57.97 L945.78,57.97 L945.87,57.97 L945.97,57.97 L946.06,57.97 L946.15,57.97 L946.25,57.97 L946.34,57.97 L946.43,57.97 L946.53,57.97 L946.62,57.97 L946.71,57.97 L946.80,57.97 L946.90,57.97 L946.99,57.97 L947.08,57.97 L947.18,57.97 L947.27,57.97 L947.36,57.97 L947.46,57.97 L947.55,57.97 L947.64,57.97 L947.74,57.97 L947.83,57.97 L947.92,57.97 L948.02,57.97 L948.11,57.97 L948.20,57.97 L948.30,57.97 L948.39,57.97 L948.48,57.97 L948.58,57.97 L948.67,57.97 L948.76,57.97 L948.86,57.97 L948.95,57.97 L949.04,57.97 L949.14,57.97 L949.23,57.97 L949.32,57.97 L949.42,57.97 L949.51,57.97 L949.60,57.97 L949.70,57.97 L949.79,57.97 L949.88,57.97 L949.98,57.97 L950.07,57.97 L950.16,57.97 L950.26,57.97 L950.35,57.97 L950.44,57.97 L950.54,57.97 L950.63,57.97 L950.72,57.97 L950.82,57.97 L950.91,57.97 L951.00,57.97 L951.10,57.97 L951.19,57.97 L951.28,57.97 L951.37,57.97 L951.47,57.97 L951.56,57.97 L951.65,57.97 L951.75,57.97 L951.84,57.97 L951.93,57.97 L952.03,57.97 L952.12,57.97 L952.21,57.97 L952.31,57.97 L952.40,57.97 L952.49,57.97 L952.59,57.97 L952.68,57.97 L952.77,57.97 L952.87,57.97 L952.96,57.97 L953.05,57.97 L953.15,57.97 L953.24,57.97 L953.33,57.97 L953.43,57.97 L953.52,57.97 L953.61,57.97 L953.71,57.97 L953.80,57.97 L953.89,57.97 L953.99,57.97 L954.08,57.97 L954.17,57.97 L954.27,57.97 L954.36,57.97 L954.45,57.97 L954.55,57.97 L954.64,57.97 L954.73,57.97 L954.83,57.97 L954.92,57.97 L955.01,57.97 L955.11,57.97 L955.20,57.97 L955.29,57.97 L955.39,57.97 L955.48,57.97 L955.57,57.97 L955.67,57.97 L955.76,57.97 L955.85,57.97 L955.95,57.97 L956.04,57.97 L956.13,57.97 L956.22,57.97 L956.32,57.97 L956.41,57.97 L956.50,57.97 L956.60,57.97 L956.69,57.97 L956.78,57.97 L956.88,57.97 L956.97,57.97 L957.06,57.97 L957.16,57.97 L957.25,57.97 L957.34,57.97 L957.44,57.97 L957.53,57.97 L957.62,57.97 L957.72,57.97 L957.81,57.97 L957.90,57.97 L958.00,57.97 L958.09,57.97 L958.18,57.97 L958.28,57.97 L958.37,57.97 L958.46,57.97 L958.56,57.97 L958.65,57.97 L958.74,57.97 L958.84,57.97 L958.93,57.97 L959.02,57.97 L959.12,57.97 L959.21,57.97 L959.30,57.97 L959.40,57.97 L959.49,57.97 L959.58,57.97 L959.68,57.97 L959.77,57.97 L959.86,57.97 L959.96,57.97 L960.05,57.97 L960.14,57.97 L960.24,57.97 L960.33,57.97 L960.42,57.97 L960.52,57.97 L960.61,57.97 L960.70,57.97 L960.80,57.97 L960.89,57.97 L960.98,57.97 L961.07,57.97 L961.17,57.97 L961.26,57.97 L961.35,57.97 L961.45,57.97 L961.54,57.97 L961.63,57.97 L961.73,57.97 L961.82,57.97 L961.91,57.97 L962.01,57.97 L962.10,57.97 L962.19,57.97 L962.29,57.97 L962.38,57.97 L962.47,57.97 L962.57,57.97 L962.66,57.97 L962.75,57.97 L962.85,57.97 L962.94,57.97 L963.03,57.97 L963.13,57.97 L963.22,57.97 L963.31,57.97 L963.41,57.97 L963.50,57.97 L963.59,57.97 L963.69,57.97 L963.78,57.97 L963.87,57.97 L963.97,57.97 L964.06,57.97 L964.15,57.97 L964.25,57.97 L964.34,57.97 L964.43,57.97 L964.53,57.97 L964.62,57.97 L964.71,57.97 L964.81,57.97 L964.90,57.97 L964.99,57.97 L965.09,57.97 L965.18,57.97 L965.27,57.97 L965.37,57.97 L965.46,57.97 L965.55,57.97 L965.64,57.97 L965.74,57.97 L965.83,57.97 L965.92,57.97 L966.02,57.97 L966.11,57.97 L966.20,57.97 L966.30,57.97 L966.39,57.97 L966.48,57.97 L966.58,57.97 L966.67,57.97 L966.76,57.97 L966.86,57.97 L966.95,57.97 L967.04,57.97 L967.14,57.97 L967.23,57.97 L967.32,57.97 L967.42,57.97 L967.51,57.97 L967.60,57.97 L967.70,57.97 L967.79,57.97 L967.88,57.97 L967.98,57.97 L968.07,57.97 L968.16,57.97 L968.26,57.97 L968.35,57.97 L968.44,57.97 L968.54,57.97 L968.63,57.97 L968.72,57.97 L968.82,57.97 L968.91,57.97 L969.00,57.97 L969.10,57.97 L969.19,57.97 L969.28,57.97 L969.38,57.97 L969.47,57.97 L969.56,57.97 L969.66,57.97 L969.75,57.97 L969.84,57.97 L969.94,57.97 L970.03,57.97 L970.12,57.97 L970.22,57.97 L970.31,57.97 L970.40,57.97 L970.49,57.97 L970.59,57.97 L970.68,57.97 L970.77,57.97 L970.87,57.97 L970.96,57.97 L971.05,57.97 L971.15,57.97 L971.24,57.97 L971.33,57.97 L971.43,57.97 L971.52,57.97 L971.61,57.97 L971.71,57.97 L971.80,57.97 L971.89,57.97 L971.99,57.97 L972.08,57.97 L972.17,57.97 L972.27,57.97 L972.36,57.97 L972.45,57.97 L972.55,57.97 L972.64,57.97 L972.73,57.97 L972.83,57.97 L972.92,57.97 L973.01,57.97 L973.11,57.97 L973.20,57.97 L973.29,57.97 L973.39,57.97 L973.48,57.97 L973.57,57.97 L973.67,57.97 L973.76,57.97 L973.85,57.97 L973.95,57.97 L974.04,57.97 L974.13,57.97 L974.23,57.97 L974.32,57.97 L974.41,57.97 L974.51,57.97 L974.60,57.97 L974.69,57.97 L974.79,57.97 L974.88,57.97 L974.97,57.97 L975.07,57.97 L975.16,57.97 L975.25,57.97 L975.34,57.97 L975.44,57.97 L975.53,57.97 L975.62,57.97 L975.72,57.97 L975.81,57.97 L975.90,57.97 L976.00,57.97 L976.09,57.97 L976.18,57.97 L976.28,57.97 L976.37,57.97 L976.46,57.97 L976.56,57.97 L976.65,57.97 L976.74,57.97 L976.84,57.97 L976.93,57.97 L977.02,57.97 L977.12,57.97 L977.21,57.97 L977.30,57.97 L977.40,57.97 L977.49,57.97 L977.58,57.97 L977.68,57.97 L977.77,57.97 L977.86,57.97 L977.96,57.97 L978.05,57.97 L978.14,57.97 L978.24,57.97 L978.33,57.97 L978.42,57.97 L978.52,57.97 L978.61,57.97 L978.70,57.97 L978.80,57.97 L978.89,57.97 L978.98,57.97 L979.08,57.97 L979.17,57.97 L979.26,57.97 L979.36,57.97 L979.45,57.97 L979.54,57.97 L979.64,57.97 L979.73,57.97 L979.82,57.97 L979.92,57.97 L980.01,57.97 L980.10,57.97 L980.19,57.97 L980.29,57.97 L980.38,57.97 L980.47,57.97 L980.57,57.97 L980.66,57.97 L980.75,57.97 L980.85,57.97 L980.94,57.97 L981.03,57.97 L981.13,57.97 L981.22,57.97 L981.31,57.97 L981.41,57.97 L981.50,57.97 L981.59,57.97 L981.69,57.97 L981.78,57.97 L981.87,57.97 L981.97,57.97 L982.06,57.97 L982.15,57.97 L982.25,57.97 L982.34,57.97 L982.43,57.97 L982.53,57.97 L982.62,57.97 L982.71,57.97 L982.81,57.97 L982.90,57.97 L982.99,57.97 L983.09,57.97 L983.18,57.97 L983.27,57.97 L983.37,57.97 L983.46,57.97 L983.55,57.97 L983.65,57.97 L983.74,57.97 L983.83,57.97 L983.93,57.97 L984.02,57.97 L984.11,57.97 L984.21,57.97 L984.30,57.97 L984.39,57.97 L984.49,57.97 L984.58,57.97 L984.67,57.97 L984.76,57.97 L984.86,57.97 L984.95,57.97 L985.04,57.97 L985.14,57.97 L985.23,57.97 L985.32,57.97 L985.42,57.97 L985.51,57.97 L985.60,57.97 L985.70,57.97 L985.79,57.97 L985.88,57.97 L985.98,57.97 L986.07,57.97 L986.16,57.97 L986.26,57.97 L986.35,57.97 L986.44,57.97 L986.54,57.97 L986.63,57.97 L986.72,57.97 L986.82,57.97 L986.91,57.97 L987.00,57.97 L987.10,57.97 L987.19,57.97 L987.28,57.97 L987.38,57.97 L987.47,57.97 L987.56,57.97 L987.66,57.97 L987.75,57.97 L987.84,57.97 L987.94,57.97 L988.03,57.97 L988.12,57.97 L988.22,57.97 L988.31,57.97 L988.40,57.97 L988.50,57.97 L988.59,57.97 L988.68,57.97 L988.78,57.97 L988.87,57.97 L988.96,57.97 L989.06,57.97 L989.15,57.97 L989.24,57.97 L989.34,57.97 L989.43,57.97 L989.52,57.97 L989.61,57.97 L989.71,57.97 L989.80,57.97 L989.89,57.97 L989.99,57.97 L990.08,57.97 L990.17,57.97 L990.27,57.97 L990.36,57.97 L990.45,57.97 L990.55,57.97 L990.64,57.97 L990.73,57.97 L990.83,57.97 L990.92,57.97 L991.01,57.97 L991.11,57.97 L991.20,57.97 L991.29,57.97 L991.39,57.97 L991.48,57.97 L991.57,57.97 L991.67,57.97 L991.76,57.97 L991.85,57.97 L991.95,57.97 L992.04,57.97 L992.13,57.97 L992.23,57.97 L992.32,57.97 L992.41,57.97 L992.51,57.97 L992.60,57.97 L992.69,57.97 L992.79,57.97 L992.88,57.97 L992.97,57.97 L993.07,57.97 L993.16,57.97 L993.25,57.97 L993.35,57.97 L993.44,57.97 L993.53,57.97 L993.63,57.97 L993.72,57.97 L993.81,57.97 L993.91,57.97 L994.00,57.97 L994.09,57.97 L994.19,57.97 L994.28,57.97 L994.37,57.97 L994.46,57.97 L994.56,57.97 L994.65,57.97 L994.74,57.97 L994.84,57.97 L994.93,57.97 L995.02,57.97 L995.12,57.97 L995.21,57.97 L995.30,57.97 L995.40,57.97 L995.49,57.97 L995.58,57.97 L995.68,57.97 L995.77,57.97 L995.86,57.97 L995.96,57.97 L996.05,57.97 L996.14,57.97 L996.24,57.97 L996.33,57.97 L996.42,57.97 L996.52,57.97 L996.61,57.97 L996.70,57.97 L996.80,57.97 L996.89,57.97 L996.98,57.97 L997.08,57.97 L997.17,57.97 L997.26,57.97 L997.36,57.97 L997.45,57.97 L997.54,57.97 L997.64,57.97 L997.73,57.97 L997.82,57.97 L997.92,57.97 L998.01,57.97 L998.10,57.97 L998.20,57.97 L998.29,57.97 L998.38,57.97 L998.48,57.97 L998.57,57.97 L998.66,57.97 L998.76,57.97 L998.85,57.97 L998.94,57.97 L999.03,57.97 L999.13,57.97 L999.22,57.97 L999.31,57.97 L999.41,57.97 L999.50,57.97 L999.59,57.97 L999.69,57.97 L999.78,57.97 L999.87,57.97 L999.97,57.97 L1000.06,57.97 L1000.15,57.97 L1000.25,57.97 L1000.34,57.97 L1000.43,57.97 L1000.53,57.97 L1000.62,57.97 L1000.71,57.97 L1000.81,57.97 L1000.90,57.97 L1000.99,57.97 L1001.09,57.97 L1001.18,57.97 L1001.27,57.97 L1001.37,57.97 L1001.46,57.97 L1001.55,57.97 L1001.65,57.97 L1001.74,57.97 L1001.83,57.97 L1001.93,57.97 L1002.02,57.97 L1002.11,57.97 L1002.21,57.97 L1002.30,57.97 L1002.39,57.97 L1002.49,57.97 L1002.58,57.97 L1002.67,57.97 L1002.77,57.97 L1002.86,57.97 L1002.95,57.97 L1003.05,57.97 L1003.14,57.97 L1003.23,57.97 L1003.33,57.97 L1003.42,57.97 L1003.51,57.97 L1003.61,57.97 L1003.70,57.97 L1003.79,57.97 L1003.88,57.97 L1003.98,57.97 L1004.07,57.97 L1004.16,57.97 L1004.26,57.97 L1004.35,57.97 L1004.44,57.97 L1004.54,57.97 L1004.63,57.97 L1004.72,57.97 L1004.82,57.97 L1004.91,57.97 L1005.00,57.97 L1005.10,57.97 L1005.19,57.97 L1005.28,57.97 L1005.38,57.97 L1005.47,57.97 L1005.56,57.97 L1005.66,57.97 L1005.75,57.97 L1005.84,57.97 L1005.94,57.97 L1006.03,57.97 L1006.12,57.97 L1006.22,57.97 L1006.31,57.97 L1006.40,57.97 L1006.50,57.97 L1006.59,57.97 L1006.68,57.97 L1006.78,57.97 L1006.87,57.97 L1006.96,57.97 L1007.06,57.97 L1007.15,57.97 L1007.24,57.97 L1007.34,57.97 L1007.43,57.97 L1007.52,57.97 L1007.62,57.97 L1007.71,57.97 L1007.80,57.97 L1007.90,57.97 L1007.99,57.97 L1008.08,57.97 L1008.18,57.97 L1008.27,57.97 L1008.36,57.97 L1008.46,57.97 L1008.55,57.97 L1008.64,57.97 L1008.73,57.97 L1008.83,57.97 L1008.92,57.97 L1009.01,57.97 L1009.11,57.97 L1009.20,57.97 L1009.29,57.97 L1009.39,57.97 L1009.48,57.97 L1009.57,57.97 L1009.67,57.97 L1009.76,57.97 L1009.85,57.97 L1009.95,57.97 L1010.04,57.97 L1010.13,57.97 L1010.23,57.97 L1010.32,57.97 L1010.41,57.97 L1010.51,57.97 L1010.60,57.97 L1010.69,57.97 L1010.79,57.97 L1010.88,57.97 L1010.97,57.97 L1011.07,57.97 L1011.16,57.97 L1011.25,57.97 L1011.35,57.97 L1011.44,57.97 L1011.53,57.97 L1011.63,57.97 L1011.72,57.97 L1011.81,57.97 L1011.91,57.97 L1012.00,57.97 L1012.09,57.97 L1012.19,57.97 L1012.28,57.97 L1012.37,57.97 L1012.47,57.97 L1012.56,57.97 L1012.65,57.97 L1012.75,57.97 L1012.84,57.97 L1012.93,57.97 L1013.03,57.97 L1013.12,57.97 L1013.21,57.97 L1013.31,57.97 L1013.40,57.97 L1013.49,57.97 L1013.58,57.97 L1013.68,57.97 L1013.77,57.97 L1013.86,57.97 L1013.96,57.97 L1014.05,57.97 L1014.14,57.97 L1014.24,57.97 L1014.33,57.97 L1014.42,57.97 L1014.52,57.97 L1014.61,57.97 L1014.70,57.97 L1014.80,57.97 L1014.89,57.97 L1014.98,57.97 L1015.08,57.97 L1015.17,57.97 L1015.26,57.97 L1015.36,57.97 L1015.45,57.97 L1015.54,57.97 L1015.64,57.97 L1015.73,57.97 L1015.82,57.97 L1015.92,57.97 L1016.01,57.97 L1016.10,57.97 L1016.20,57.97 L1016.29,57.97 L1016.38,57.97 L1016.48,57.97 L1016.57,57.97 L1016.66,57.97 L1016.76,57.97 L1016.85,57.97 L1016.94,57.97 L1017.04,57.97 L1017.13,57.97 L1017.22,57.97 L1017.32,57.97 L1017.41,57.97 L1017.50,57.97 L1017.60,57.97 L1017.69,57.97 L1017.78,57.97 L1017.88,57.97 L1017.97,57.97 L1018.06,57.97 L1018.15,57.97 L1018.25,57.97 L1018.34,57.97 L1018.43,57.97 L1018.53,57.97 L1018.62,57.97 L1018.71,57.97 L1018.81,57.97 L1018.90,57.97 L1018.99,57.97 L1019.09,57.97 L1019.18,57.97 L1019.27,57.97 L1019.37,57.97 L1019.46,57.97 L1019.55,57.97 L1019.65,57.97 L1019.74,57.97 L1019.83,57.97 L1019.93,57.97 L1020.02,57.97 L1020.11,57.97 L1020.21,57.97 L1020.30,57.97 L1020.39,57.97 L1020.49,57.97 L1020.58,57.97 L1020.67,57.97 L1020.77,57.97 L1020.86,57.97 L1020.95,57.97 L1021.05,57.97 L1021.14,57.97 L1021.23,57.97 L1021.33,57.97 L1021.42,57.97 L1021.51,57.97 L1021.61,57.97 L1021.70,57.97 L1021.79,57.97 L1021.89,57.97 L1021.98,57.97 L1022.07,57.97 L1022.17,57.97 L1022.26,57.97 L1022.35,57.97 L1022.45,57.97 L1022.54,57.97 L1022.63,57.97 L1022.73,57.97 L1022.82,57.97 L1022.91,57.97 L1023.00,57.97 L1023.10,57.97 L1023.19,57.97 L1023.28,57.97 L1023.38,57.97 L1023.47,57.97 L1023.56,57.97 L1023.66,57.97 L1023.75,57.97 L1023.84,57.97 L1023.94,57.97 L1024.03,57.97 L1024.12,57.97 L1024.22,57.97 L1024.31,57.97 L1024.40,57.97 L1024.50,57.97 L1024.59,57.97 L1024.68,57.97 L1024.78,57.97 L1024.87,57.97 L1024.96,57.97 L1025.06,57.97 L1025.15,57.97 L1025.24,57.97 L1025.34,57.97 L1025.43,57.97 L1025.52,57.97 L1025.62,57.97 L1025.71,57.97 L1025.80,57.97 L1025.90,57.97 L1025.99,57.97 L1026.08,57.97 L1026.18,57.97 L1026.27,57.97 L1026.36,57.97 L1026.46,57.97 L1026.55,57.97 L1026.64,57.97 L1026.74,57.97 L1026.83,57.97 L1026.92,57.97 L1027.02,57.97 L1027.11,57.97 L1027.20,57.97 L1027.30,57.97 L1027.39,57.97 L1027.48,57.97 L1027.58,57.97 L1027.67,57.97 L1027.76,57.97 L1027.85,57.97 L1027.95,57.97 L1028.04,57.97 L1028.13,57.97 L1028.23,57.97 L1028.32,57.97 L1028.41,57.97 L1028.51,57.97 L1028.60,57.97 L1028.69,57.97 L1028.79,57.97 L1028.88,57.97 L1028.97,57.97 L1029.07,57.97 L1029.16,57.97 L1029.25,57.97 L1029.35,57.97 L1029.44,57.97 L1029.53,57.97 L1029.63,57.97 L1029.72,57.97 L1029.81,57.97 L1029.91,57.97 L1030.00,57.97" fill="none" stroke="#00009a" stroke-width="2.0" stroke-linejoin="round"/>
<g fill="#0000ff"><circle cx="845.5" cy="417.0" r="6.0"/><circle cx="846.0" cy="411.4" r="6.0"/><circle cx="846.3" cy="406.7" r="6.0"/><circle cx="846.4" cy="402.3" r="6.0"/><circle cx="846.0" cy="400.2" r="6.0"/><circle cx="845.5" cy="398.5" r="6.0"/><circle cx="845.5" cy="396.9" r="6.0"/><circle cx="846.0" cy="393.6" r="6.0"/><circle cx="846.5" cy="391.2" r="6.0"/><circle cx="846.3" cy="388.4" r="6.0"/><circle cx="845.4" cy="386.5" r="6.0"/><circle cx="845.0" cy="383.2" r="6.0"/><circle cx="845.4" cy="380.0" r="6.0"/><circle cx="845.6" cy="379.4" r="6.0"/><circle cx="844.9" cy="378.1" r="6.0"/><circle cx="844.5" cy="375.5" r="6.0"/><circle cx="845.3" cy="374.6" r="6.0"/><circle cx="846.1" cy="368.4" r="6.0"/><circle cx="845.7" cy="364.5" r="6.0"/><circle cx="845.4" cy="362.2" r="6.0"/><circle cx="845.7" cy="359.2" r="6.0"/><circle cx="845.9" cy="355.5" r="6.0"/><circle cx="845.6" cy="349.0" r="6.0"/><circle cx="844.9" cy="344.6" r="6.0"/><circle cx="844.2" cy="342.0" r="6.0"/><circle cx="844.1" cy="339.3" r="6.0"/><circle cx="844.6" cy="336.1" r="6.0"/><circle cx="845.3" cy="333.5" r="6.0"/><circle cx="845.5" cy="332.3" r="6.0"/><circle cx="844.9" cy="326.5" r="6.0"/><circle cx="843.9" cy="325.1" r="6.0"/><circle cx="844.0" cy="318.9" r="6.0"/><circle cx="845.0" cy="318.6" r="6.0"/><circle cx="845.9" cy="317.5" r="6.0"/><circle cx="846.5" cy="316.9" r="6.0"/><circle cx="846.1" cy="315.7" r="6.0"/><circle cx="845.0" cy="311.1" r="6.0"/><circle cx="844.3" cy="307.4" r="6.0"/><circle cx="844.8" cy="306.7" r="6.0"/><circle cx="846.0" cy="305.3" r="6.0"/><circle cx="846.2" cy="301.7" r="6.0"/><circle cx="845.9" cy="300.4" r="6.0"/><circle cx="846.1" cy="297.0" r="6.0"/><circle cx="845.7" cy="294.4" r="6.0"/><circle cx="845.6" cy="290.7" r="6.0"/><circle cx="845.7" cy="290.5" r="6.0"/><circle cx="845.3" cy="283.3" r="6.0"/><circle cx="845.6" cy="280.8" r="6.0"/><circle cx="845.7" cy="279.9" r="6.0"/><circle cx="845.6" cy="275.5" r="6.0"/><circle cx="845.6" cy="274.3" r="6.0"/><circle cx="845.8" cy="271.5" r="6.0"/><circle cx="846.4" cy="264.9" r="6.0"/><circle cx="845.8" cy="262.1" r="6.0"/><circle cx="844.8" cy="260.1" r="6.0"/><circle cx="845.4" cy="254.3" r="6.0"/><circle cx="846.0" cy="250.4" r="6.0"/><circle cx="845.7" cy="248.9" r="6.0"/><circle cx="845.6" cy="247.2" r="6.0"/><circle cx="845.9" cy="245.6" r="6.0"/><circle cx="846.5" cy="243.7" r="6.0"/><circle cx="847.0" cy="239.1" r="6.0"/><circle cx="847.0" cy="235.9" r="6.0"/><circle cx="846.9" cy="233.2" r="6.0"/><circle cx="847.0" cy="231.5" r="6.0"/><circle cx="847.3" cy="228.2" r="6.0"/><circle cx="846.8" cy="227.3" r="6.0"/><circle cx="846.7" cy="222.7" r="6.0"/><circle cx="847.3" cy="221.2" r="6.0"/><circle cx="847.4" cy="214.6" r="6.0"/><circle cx="847.3" cy="207.9" r="6.0"/><circle cx="847.7" cy="207.5" r="6.0"/><circle cx="847.9" cy="203.6" r="6.0"/><circle cx="847.2" cy="201.9" r="6.0"/><circle cx="846.9" cy="200.5" r="6.0"/><circle cx="847.3" cy="199.7" r="6.0"/><circle cx="847.8" cy="193.7" r="6.0"/><circle cx="847.7" cy="190.1" r="6.0"/><circle cx="847.8" cy="188.6" r="6.0"/><circle cx="848.2" cy="186.3" r="6.0"/><circle cx="848.8" cy="183.4" r="6.0"/><circle cx="849.0" cy="181.6" r="6.0"/><circle cx="848.6" cy="179.0" r="6.0"/><circle cx="848.2" cy="177.0" r="6.0"/><circle cx="848.5" cy="174.0" r="6.0"/><circle cx="849.2" cy="166.3" r="6.0"/><circle cx="849.2" cy="165.5" r="6.0"/><circle cx="849.5" cy="165.0" r="6.0"/><circle cx="850.1" cy="162.8" r="6.0"/><circle cx="849.4" cy="161.0" r="6.0"/><circle cx="848.5" cy="160.6" r="6.0"/><circle cx="848.9" cy="157.8" r="6.0"/><circle cx="849.7" cy="151.7" r="6.0"/><circle cx="849.7" cy="149.6" r="6.0"/><circle cx="850.2" cy="146.3" r="6.0"/><circle cx="850.4" cy="144.8" r="6.0"/><circle cx="850.2" cy="143.0" r="6.0"/><circle cx="850.6" cy="139.6" r="6.0"/><circle cx="851.0" cy="136.7" r="6.0"/><circle cx="851.0" cy="135.8" r="6.0"/><circle cx="850.6" cy="134.8" r="6.0"/><circle cx="851.1" cy="127.2" r="6.0"/><circle cx="851.3" cy="125.5" r="6.0"/><circle cx="851.4" cy="122.1" r="6.0"/><circle cx="852.3" cy="120.9" r="6.0"/><circle cx="853.2" cy="118.8" r="6.0"/><circle cx="852.9" cy="117.1" r="6.0"/><circle cx="852.7" cy="112.7" r="6.0"/><circle cx="852.3" cy="112.2" r="6.0"/><circle cx="852.4" cy="109.5" r="6.0"/><circle cx="853.0" cy="106.3" r="6.0"/><circle cx="853.5" cy="104.1" r="6.0"/><circle cx="854.1" cy="100.5" r="6.0"/><circle cx="854.6" cy="97.8" r="6.0"/><circle cx="855.4" cy="92.5" r="6.0"/><circle cx="856.7" cy="88.5" r="6.0"/><circle cx="858.1" cy="83.7" r="6.0"/><circle cx="858.8" cy="80.7" r="6.0"/><circle cx="859.6" cy="79.2" r="6.0"/><circle cx="861.8" cy="73.7" r="6.0"/><circle cx="862.3" cy="71.1" r="6.0"/><circle cx="862.9" cy="67.5" r="6.0"/><circle cx="863.1" cy="66.3" r="6.0"/><circle cx="866.5" cy="65.5" r="6.0"/><circle cx="869.5" cy="65.0" r="6.0"/><circle cx="873.6" cy="66.0" r="6.0"/><circle cx="874.0" cy="61.2" r="6.0"/><circle cx="874.2" cy="55.0" r="6.0"/><circle cx="875.0" cy="52.5" r="6.0"/><circle cx="878.6" cy="48.1" r="6.0"/><circle cx="896.2" cy="42.2" r="6.0"/><circle cx="901.2" cy="38.8" r="6.0"/><circle cx="913.5" cy="36.2" r="6.0"/><circle cx="924.0" cy="33.1" r="6.0"/><circle cx="975.2" cy="30.5" r="6.0"/><circle cx="1005.4" cy="27.5" r="6.0"/><circle cx="1030.6" cy="24.7" r="6.0"/></g>
<path d="M837.30,437.60 L841.00,422.00 L845.00,410.00 L846.45,398.70 L848.15,385.60 L850.10,372.50 L851.75,359.40 L854.70,346.00 L859.00,331.00 L862.40,316.90 L865.40,303.70 L867.70,290.60 L871.00,277.50 L873.90,264.40 L877.80,251.20 L884.00,238.10 L887.10,232.40 L892.30,221.90 L896.30,208.70 L903.20,195.60 L910.00,182.50 L917.20,169.40 L923.50,155.50 L928.90,145.90 L934.00,136.50 L936.00,131.57 L937.01,130.02 L938.01,128.49 L939.02,126.98 L940.03,125.51 L941.03,124.05 L942.04,122.62 L943.04,121.21 L944.05,119.82 L945.06,118.46 L946.06,117.12 L947.07,115.80 L948.08,114.50 L949.08,113.22 L950.09,111.96 L951.10,110.72 L952.10,109.50 L953.11,108.31 L954.11,107.13 L955.12,105.97 L956.13,104.83 L957.13,103.70 L958.14,102.60 L959.15,101.51 L960.15,100.44 L961.16,99.39 L962.17,98.35 L963.17,97.33 L964.18,96.33 L965.18,95.34 L966.19,94.37 L967.20,93.42 L968.20,92.48 L969.21,91.55 L970.22,90.64 L971.22,89.75 L972.23,88.87 L973.24,88.00 L974.24,87.15 L975.25,86.31 L976.25,85.48 L977.26,84.67 L978.27,83.87 L979.27,83.09 L980.28,82.31 L981.29,81.55 L982.29,80.80 L983.30,80.07 L984.31,79.34 L985.31,78.63 L986.32,77.92 L987.32,77.23 L988.33,76.55 L989.34,75.89 L990.34,75.23 L991.35,74.58 L992.36,73.94 L993.36,73.32 L994.37,72.70 L995.37,72.09 L996.38,71.50 L997.39,70.91 L998.39,70.33 L999.40,69.76 L1000.41,69.20 L1001.41,68.65 L1002.42,68.11 L1003.43,67.58 L1004.43,67.05 L1005.44,66.54 L1006.44,66.03 L1007.45,65.53 L1008.46,65.04 L1009.46,64.55 L1010.47,64.08 L1011.48,63.61 L1012.48,63.15 L1013.49,62.69 L1014.50,62.25 L1015.50,61.81 L1016.51,61.38 L1017.51,60.95 L1018.52,60.53 L1019.53,60.12 L1020.53,59.72 L1021.54,59.32 L1022.55,58.93 L1023.55,58.54 L1024.56,58.16 L1025.57,57.79 L1026.57,57.42 L1027.58,57.06 L1028.58,56.71 L1029.59,56.36 L1030.60,56.01 L1031.60,55.67 L1032.61,55.34 L1033.62,55.01 L1034.62,54.69 L1035.63,54.37 L1036.64,54.06 L1037.64,53.75 L1038.65,53.45 L1039.65,53.15 L1040.66,52.86 L1041.67,52.57 L1042.67,52.29 L1043.68,52.01 L1044.69,51.74 L1045.69,51.47 L1046.70,51.20 L1047.71,50.94 L1048.71,50.68 L1049.72,50.43 L1050.72,50.18 L1051.73,49.93 L1052.74,49.69 L1053.74,49.46 L1054.75,49.22 L1055.76,48.99 L1056.76,48.77 L1057.77,48.55 L1058.78,48.33 L1059.78,48.11 L1060.79,47.90 L1061.79,47.69 L1062.80,47.49 L1063.81,47.28 L1064.81,47.09 L1065.82,46.89 L1066.83,46.70 L1067.83,46.51 L1068.84,46.32 L1069.85,46.14 L1070.85,45.96 L1071.86,45.78 L1072.86,45.61 L1073.87,45.44 L1074.88,45.27 L1075.88,45.10 L1076.89,44.94 L1077.90,44.78 L1078.90,44.62 L1079.91,44.47 L1080.92,44.31 L1081.92,44.16 L1082.93,44.01 L1083.93,43.87 L1084.94,43.72 L1085.95,43.58 L1086.95,43.44 L1087.96,43.31 L1088.97,43.17 L1089.97,43.04 L1090.98,42.91 L1091.98,42.78 L1092.99,42.66 L1094.00,42.53 L1095.00,42.41 L1096.01,42.29 L1097.02,42.17 L1098.02,42.06 L1099.03,41.94 L1100.04,41.83 L1101.04,41.72 L1102.05,41.61 L1103.05,41.50 L1104.06,41.40 L1105.07,41.29 L1106.07,41.19 L1107.08,41.09 L1108.09,40.99 L1109.09,40.89 L1110.10,40.80 L1111.11,40.70 L1112.11,40.61 L1113.12,40.52 L1114.12,40.43 L1115.13,40.34 L1116.14,40.25 L1117.14,40.17 L1118.15,40.09 L1119.16,40.00 L1120.16,39.92 L1121.17,39.84 L1122.18,39.76 L1123.18,39.68 L1124.19,39.61 L1125.19,39.53 L1126.20,39.46 L1127.21,39.39 L1128.21,39.32 L1129.22,39.24 L1130.23,39.18 L1131.23,39.11 L1132.24,39.04 L1133.25,38.97 L1134.25,38.91 L1135.26,38.85 L1136.26,38.78 L1137.27,38.72 L1138.28,38.66 L1139.28,38.60 L1140.29,38.54 L1141.30,38.48 L1142.30,38.43 L1143.31,38.37 L1144.32,38.32 L1145.32,38.26 L1146.33,38.21 L1147.33,38.15 L1148.34,38.10 L1149.35,38.05 L1150.35,38.00 L1151.36,37.95 L1152.37,37.90 L1153.37,37.86 L1154.38,37.81 L1155.39,37.76 L1156.39,37.72 L1157.40,37.67 L1158.40,37.63 L1159.41,37.59 L1160.42,37.54 L1161.42,37.50 L1162.43,37.46 L1163.44,37.42 L1164.44,37.38 L1165.45,37.34 L1166.46,37.30 L1167.46,37.26 L1168.47,37.23 L1169.47,37.19 L1170.48,37.15 L1171.49,37.12 L1172.49,37.08 L1173.50,37.05 L1174.51,37.01 L1175.51,36.98 L1176.52,36.95 L1177.53,36.92 L1178.53,36.88 L1179.54,36.85 L1180.54,36.82 L1181.55,36.79 L1182.56,36.76 L1183.56,36.73 L1184.57,36.70 L1185.58,36.68 L1186.58,36.65 L1187.59,36.62 L1188.59,36.59 L1189.60,36.57 L1190.61,36.54 L1191.61,36.51 L1192.62,36.49 L1193.63,36.46 L1194.63,36.44 L1195.64,36.42 L1196.65,36.39 L1197.65,36.37 L1198.66,36.35 L1199.66,36.32 L1200.67,36.30 L1201.68,36.28 L1202.68,36.26 L1203.69,36.24 L1204.70,36.21 L1205.70,36.19 L1206.71,36.17 L1207.72,36.15 L1208.72,36.13 L1209.73,36.12 L1210.73,36.10 L1211.74,36.08 L1212.75,36.06 L1213.75,36.04 L1214.76,36.02 L1215.77,36.01 L1216.77,35.99 L1217.78,35.97 L1218.79,35.96 L1219.79,35.94 L1220.80,35.92 L1221.80,35.91 L1222.81,35.89 L1223.82,35.88 L1224.82,35.86 L1225.83,35.85 L1226.84,35.83 L1227.84,35.82 L1228.85,35.80 L1229.86,35.79 L1230.86,35.78 L1231.87,35.76 L1232.87,35.75 L1233.88,35.74 L1234.89,35.72 L1235.89,35.71 L1236.90,35.70" fill="none" stroke="#000000" stroke-width="2.0" stroke-linejoin="round"/>
<g fill="#000000"><circle cx="846.1" cy="416.3" r="6.0"/><circle cx="845.3" cy="414.1" r="6.0"/><circle cx="844.1" cy="412.1" r="6.0"/><circle cx="844.2" cy="410.3" r="6.0"/><circle cx="844.8" cy="408.0" r="6.0"/><circle cx="845.2" cy="406.2" r="6.0"/><circle cx="845.2" cy="403.3" r="6.0"/><circle cx="845.3" cy="400.9" r="6.0"/><circle cx="845.6" cy="398.6" r="6.0"/><circle cx="845.3" cy="397.5" r="6.0"/><circle cx="845.4" cy="396.8" r="6.0"/><circle cx="846.6" cy="395.9" r="6.0"/><circle cx="847.2" cy="393.5" r="6.0"/><circle cx="846.7" cy="391.1" r="6.0"/><circle cx="846.8" cy="390.2" r="6.0"/><circle cx="847.1" cy="387.8" r="6.0"/><circle cx="847.4" cy="386.4" r="6.0"/><circle cx="848.3" cy="385.0" r="6.0"/><circle cx="849.2" cy="381.6" r="6.0"/><circle cx="849.7" cy="379.5" r="6.0"/><circle cx="849.5" cy="377.0" r="6.0"/><circle cx="849.7" cy="374.7" r="6.0"/><circle cx="849.6" cy="373.8" r="6.0"/><circle cx="849.8" cy="371.3" r="6.0"/><circle cx="851.0" cy="365.8" r="6.0"/><circle cx="851.4" cy="364.7" r="6.0"/><circle cx="851.8" cy="361.7" r="6.0"/><circle cx="851.8" cy="358.4" r="6.0"/><circle cx="851.8" cy="355.2" r="6.0"/><circle cx="852.6" cy="353.7" r="6.0"/><circle cx="853.7" cy="352.2" r="6.0"/><circle cx="854.0" cy="351.1" r="6.0"/><circle cx="853.7" cy="348.9" r="6.0"/><circle cx="854.0" cy="344.9" r="6.0"/><circle cx="854.4" cy="343.4" r="6.0"/><circle cx="855.0" cy="342.9" r="6.0"/><circle cx="855.0" cy="340.7" r="6.0"/><circle cx="855.4" cy="337.4" r="6.0"/><circle cx="857.3" cy="336.0" r="6.0"/><circle cx="859.0" cy="331.7" r="6.0"/><circle cx="858.3" cy="329.5" r="6.0"/><circle cx="858.3" cy="327.3" r="6.0"/><circle cx="858.8" cy="326.2" r="6.0"/><circle cx="859.6" cy="324.5" r="6.0"/><circle cx="860.9" cy="321.6" r="6.0"/><circle cx="861.3" cy="318.4" r="6.0"/><circle cx="862.3" cy="314.7" r="6.0"/><circle cx="863.4" cy="311.9" r="6.0"/><circle cx="864.0" cy="309.2" r="6.0"/><circle cx="864.0" cy="308.5" r="6.0"/><circle cx="863.7" cy="307.1" r="6.0"/><circle cx="864.0" cy="300.9" r="6.0"/><circle cx="865.1" cy="299.5" r="6.0"/><circle cx="867.2" cy="296.8" r="6.0"/><circle cx="867.5" cy="294.8" r="6.0"/><circle cx="867.5" cy="291.8" r="6.0"/><circle cx="868.1" cy="289.7" r="6.0"/><circle cx="868.4" cy="288.5" r="6.0"/><circle cx="869.3" cy="287.3" r="6.0"/><circle cx="870.2" cy="284.9" r="6.0"/><circle cx="869.0" cy="282.9" r="6.0"/><circle cx="868.0" cy="282.0" r="6.0"/><circle cx="868.8" cy="279.3" r="6.0"/><circle cx="870.3" cy="276.1" r="6.0"/><circle cx="872.3" cy="273.2" r="6.0"/><circle cx="873.2" cy="269.9" r="6.0"/><circle cx="872.0" cy="268.8" r="6.0"/><circle cx="872.5" cy="264.2" r="6.0"/><circle cx="874.2" cy="262.6" r="6.0"/><circle cx="874.6" cy="261.4" r="6.0"/><circle cx="874.0" cy="259.4" r="6.0"/><circle cx="874.7" cy="258.1" r="6.0"/><circle cx="875.8" cy="257.3" r="6.0"/><circle cx="876.6" cy="255.3" r="6.0"/><circle cx="876.8" cy="253.0" r="6.0"/><circle cx="876.8" cy="250.9" r="6.0"/><circle cx="877.4" cy="248.5" r="6.0"/><circle cx="878.9" cy="247.1" r="6.0"/><circle cx="881.0" cy="246.5" r="6.0"/><circle cx="881.7" cy="245.1" r="6.0"/><circle cx="881.8" cy="242.1" r="6.0"/><circle cx="881.2" cy="240.8" r="6.0"/><circle cx="881.6" cy="239.1" r="6.0"/><circle cx="883.8" cy="236.5" r="6.0"/><circle cx="885.6" cy="234.8" r="6.0"/><circle cx="887.0" cy="232.3" r="6.0"/><circle cx="887.6" cy="230.2" r="6.0"/><circle cx="887.8" cy="229.1" r="6.0"/><circle cx="888.9" cy="227.7" r="6.0"/><circle cx="890.7" cy="226.0" r="6.0"/><circle cx="892.5" cy="225.0" r="6.0"/><circle cx="893.6" cy="223.2" r="6.0"/><circle cx="893.0" cy="220.5" r="6.0"/><circle cx="893.1" cy="217.1" r="6.0"/><circle cx="893.7" cy="215.5" r="6.0"/><circle cx="894.6" cy="212.0" r="6.0"/><circle cx="895.1" cy="209.9" r="6.0"/><circle cx="896.5" cy="206.8" r="6.0"/><circle cx="898.3" cy="203.7" r="6.0"/><circle cx="901.0" cy="199.9" r="6.0"/><circle cx="902.8" cy="196.9" r="6.0"/><circle cx="904.3" cy="193.7" r="6.0"/><circle cx="906.1" cy="189.5" r="6.0"/><circle cx="905.9" cy="188.5" r="6.0"/><circle cx="906.4" cy="187.3" r="6.0"/><circle cx="908.3" cy="184.4" r="6.0"/><circle cx="908.8" cy="184.0" r="6.0"/><circle cx="910.2" cy="182.1" r="6.0"/><circle cx="911.0" cy="179.9" r="6.0"/><circle cx="911.0" cy="178.8" r="6.0"/><circle cx="911.6" cy="177.7" r="6.0"/><circle cx="912.9" cy="175.0" r="6.0"/><circle cx="914.3" cy="172.6" r="6.0"/><circle cx="915.0" cy="171.1" r="6.0"/><circle cx="915.3" cy="169.7" r="6.0"/><circle cx="916.8" cy="168.9" r="6.0"/><circle cx="918.5" cy="166.7" r="6.0"/><circle cx="918.7" cy="165.7" r="6.0"/><circle cx="919.3" cy="163.6" r="6.0"/><circle cx="919.5" cy="162.6" r="6.0"/><circle cx="920.7" cy="159.5" r="6.0"/><circle cx="921.9" cy="157.4" r="6.0"/><circle cx="923.9" cy="153.9" r="6.0"/><circle cx="924.0" cy="153.4" r="6.0"/><circle cx="924.2" cy="152.7" r="6.0"/><circle cx="925.4" cy="151.6" r="6.0"/><circle cx="927.8" cy="148.1" r="6.0"/><circle cx="928.1" cy="146.9" r="6.0"/><circle cx="930.0" cy="143.5" r="6.0"/><circle cx="931.0" cy="141.3" r="6.0"/><circle cx="931.7" cy="139.0" r="6.0"/><circle cx="933.7" cy="136.7" r="6.0"/><circle cx="934.7" cy="135.7" r="6.0"/><circle cx="935.1" cy="134.2" r="6.0"/><circle cx="935.1" cy="133.1" r="6.0"/><circle cx="935.2" cy="130.7" r="6.0"/><circle cx="936.9" cy="126.0" r="6.0"/><circle cx="938.3" cy="124.6" r="6.0"/><circle cx="939.4" cy="122.1" r="6.0"/><circle cx="939.7" cy="119.4" r="6.0"/><circle cx="940.1" cy="116.9" r="6.0"/><circle cx="942.0" cy="115.6" r="6.0"/><circle cx="944.8" cy="112.5" r="6.0"/><circle cx="945.6" cy="110.4" r="6.0"/><circle cx="945.3" cy="108.3" r="6.0"/><circle cx="945.0" cy="104.6" r="6.0"/><circle cx="946.1" cy="101.6" r="6.0"/><circle cx="946.4" cy="100.5" r="6.0"/><circle cx="955.0" cy="97.0" r="6.0"/><circle cx="971.2" cy="95.5" r="6.0"/><circle cx="985.3" cy="91.5" r="6.0"/><circle cx="992.3" cy="86.5" r="6.0"/><circle cx="1000.4" cy="80.5" r="6.0"/><circle cx="1006.4" cy="76.4" r="6.0"/><circle cx="1010.0" cy="73.5" r="6.0"/><circle cx="1014.5" cy="70.4" r="6.0"/><circle cx="1016.5" cy="67.3" r="6.0"/><circle cx="1018.5" cy="64.3" r="6.0"/><circle cx="1024.0" cy="60.8" r="6.0"/><circle cx="1029.6" cy="57.3" r="6.0"/><circle cx="1035.0" cy="54.8" r="6.0"/><circle cx="1040.6" cy="52.3" r="6.0"/><circle cx="1042.7" cy="48.2" r="6.0"/><circle cx="1047.7" cy="45.2" r="6.0"/><circle cx="1062.8" cy="43.2" r="6.0"/><circle cx="1070.8" cy="41.2" r="6.0"/><circle cx="1081.9" cy="39.2" r="6.0"/><circle cx="1091.0" cy="36.2" r="6.0"/><circle cx="1100.0" cy="34.2" r="6.0"/><circle cx="1111.1" cy="31.7" r="6.0"/><circle cx="1124.2" cy="29.5" r="6.0"/><circle cx="1168.5" cy="27.1" r="6.0"/><circle cx="1217.8" cy="24.7" r="6.0"/></g>
<g font-family="'Liberation Sans', Arial, Helvetica, sans-serif" fill="#000">
<text x="0.5" y="24.8" font-size="32" text-anchor="start" font-weight="bold" >a</text>
<text x="783.8" y="25.3" font-size="33.5" text-anchor="start" font-weight="bold" >b</text>
<text x="0.5" y="545.3" font-size="32" text-anchor="start" font-weight="bold" >c</text>
<text x="66.1" y="428.4" font-size="25" text-anchor="end" font-weight="normal" >0</text>
<text x="825.9" y="425.7" font-size="25" text-anchor="end" font-weight="normal" >0</text>
<text x="70.7" y="351.4" font-size="25" text-anchor="end" font-weight="normal" >0.2</text>
<text x="831.2" y="347.2" font-size="25" text-anchor="end" font-weight="normal" >0.2</text>
<text x="70.7" y="274.4" font-size="25" text-anchor="end" font-weight="normal" >0.4</text>
<text x="831.2" y="268.7" font-size="25" text-anchor="end" font-weight="normal" >0.4</text>
<text x="70.7" y="197.4" font-size="25" text-anchor="end" font-weight="normal" >0.6</text>
<text x="831.2" y="190.2" font-size="25" text-anchor="end" font-weight="normal" >0.6</text>
<text x="70.7" y="120.4" font-size="25" text-anchor="end" font-weight="normal" >0.8</text>
<text x="831.2" y="111.7" font-size="25" text-anchor="end" font-weight="normal" >0.8</text>
<text x="66.1" y="43.4" font-size="25" text-anchor="end" font-weight="normal" >1</text>
<text x="825.9" y="33.2" font-size="25" text-anchor="end" font-weight="normal" >1</text>
<text x="87.8" y="465.8" font-size="25" text-anchor="middle" font-weight="normal" >0</text>
<text x="165.1" y="465.8" font-size="25" text-anchor="middle" font-weight="normal" >100</text>
<text x="239.0" y="465.8" font-size="25" text-anchor="middle" font-weight="normal" >200</text>
<text x="313.3" y="465.8" font-size="25" text-anchor="middle" font-weight="normal" >300</text>
<text x="387.8" y="465.8" font-size="25" text-anchor="middle" font-weight="normal" >400</text>
<text x="461.6" y="465.8" font-size="25" text-anchor="middle" font-weight="normal" >500</text>
<text x="535.8" y="465.8" font-size="25" text-anchor="middle" font-weight="normal" >600</text>
<text x="610.4" y="465.8" font-size="25" text-anchor="middle" font-weight="normal" >700</text>
<text x="681.3" y="465.8" font-size="25" text-anchor="middle" font-weight="normal" >800</text>
<text x="755.6" y="465.8" font-size="25" text-anchor="middle" font-weight="normal" >900</text>
<text x="844.8" y="464.9" font-size="25" text-anchor="middle" font-weight="normal" >0</text>
<text x="922.5" y="464.9" font-size="25" text-anchor="middle" font-weight="normal" >100</text>
<text x="996.3" y="464.9" font-size="25" text-anchor="middle" font-weight="normal" >200</text>
<text x="1070.1" y="464.9" font-size="25" text-anchor="middle" font-weight="normal" >300</text>
<text x="1144.9" y="464.9" font-size="25" text-anchor="middle" font-weight="normal" >400</text>
<text x="1219.0" y="464.9" font-size="25" text-anchor="middle" font-weight="normal" >500</text>
<text x="1293.5" y="464.9" font-size="25" text-anchor="middle" font-weight="normal" >600</text>
<text x="1368.2" y="464.9" font-size="25" text-anchor="middle" font-weight="normal" >700</text>
<text x="1441.6" y="464.9" font-size="25" text-anchor="middle" font-weight="normal" >800</text>
<text x="1516.0" y="464.9" font-size="25" text-anchor="middle" font-weight="normal" >900</text>
<text x="376.5" y="498.6" font-size="25" text-anchor="start" font-weight="normal" >Time (s)</text>
<text x="1172.5" y="495.6" font-size="25" text-anchor="start" font-weight="normal" >Time (s)</text>
<text transform="translate(27.8,339) rotate(-90)" font-size="25">Cumulative probability</text>
<text x="603" y="331.9" font-size="25" text-anchor="start" font-weight="normal" >WT</text>
<text x="603" y="368.3" font-size="25" text-anchor="start" font-weight="normal" >T439A</text>
<text x="601.8" y="398.6" font-size="25" text-anchor="start" font-weight="normal" >H505Y</text>
</g>
<g stroke="#404040" stroke-width="1.6">
<path d="M54.6,560.35 L1099,560.35"/>
<path d="M186,596.1 L875,596.1"/>
<path d="M57.3,666.1 L1097,666.1"/>
<path d="M54.5,798.25 L1099.9,798.25"/>
</g>
<g font-family="'Liberation Sans', Arial, Helvetica, sans-serif" fill="#000" font-size="26">
<text transform="translate(121.1,621) scale(0.965,1)" font-size="27" text-anchor="middle">eIF5B</text>
<text transform="translate(530.2,586.2) scale(0.965,1)" font-size="27" text-anchor="middle">60S joining</text>
<text x="302.2" y="640.8" text-anchor="middle"><tspan font-style="italic">k</tspan><tspan font-style="italic" font-size="21" dy="5.5">fast</tspan><tspan dy="-5.5" dx="4">(s</tspan><tspan font-size="21" dy="-3.6">-1</tspan><tspan dy="3.6">)</tspan></text>
<text x="486.3" y="640.8" text-anchor="middle"><tspan font-style="italic">A</tspan><tspan font-style="italic" font-size="21" dy="5.5">fast</tspan><tspan dy="-5.5" dx="4">(%)</tspan></text>
<text x="650.5" y="640.8" text-anchor="middle"><tspan font-style="italic">k</tspan><tspan font-style="italic" font-size="21" dy="5.5">slow</tspan><tspan dy="-5.5" dx="4">(s</tspan><tspan font-size="21" dy="-3.6">-1</tspan><tspan dy="3.6">)</tspan></text>
<text x="805.2" y="640.8" text-anchor="middle"><tspan font-style="italic">A</tspan><tspan font-style="italic" font-size="21" dy="5.5">slow</tspan><tspan dy="-5.5" dx="4">(%)</tspan></text>
<text x="948.3" y="627.4" text-anchor="middle"><tspan font-style="italic">Δt</tspan> (s)</text>
<text x="1063" y="621" text-anchor="middle" font-style="italic">n</text>
<text x="121" y="701.9" text-anchor="middle">WT</text>
<text x="299" y="701.9" text-anchor="middle">0.23 ± 0.03</text>
<text x="484" y="701.9" text-anchor="middle">86.1 ± 0.8</text>
<text x="648.5" y="701.9" text-anchor="middle">0.018 ± 0.002</text>
<text x="806.5" y="701.9" text-anchor="middle">13.9 ± 0.1</text>
<text x="953" y="701.9" text-anchor="middle">92.2 ± 2.5</text>
<text x="1066" y="701.9" text-anchor="middle">164</text>
<text x="121" y="745.8" text-anchor="middle">T439A</text>
<text x="299" y="745.8" text-anchor="middle">0.0041 ± 0.0001</text>
<text x="484" y="745.8" text-anchor="middle">100%</text>
<text x="953" y="745.8" text-anchor="middle">370 ± 119</text>
<text x="1066" y="745.8" text-anchor="middle">*</text>
<text x="121" y="783.9" text-anchor="middle">H505Y</text>
<text x="299" y="783.9" text-anchor="middle">0.100 ± 0.008</text>
<text x="484" y="783.9" text-anchor="middle">79.2 ± 22.1</text>
<text x="648.5" y="783.9" text-anchor="middle">0.018 ± 0.006</text>
<text x="806.5" y="783.9" text-anchor="middle">20.8 ± 5.8</text>
<text x="953" y="783.9" text-anchor="middle">5.1 ± 0.3</text>
<text x="1066" y="783.9" text-anchor="middle">119</text>
</g>
</svg>
</body></html>
